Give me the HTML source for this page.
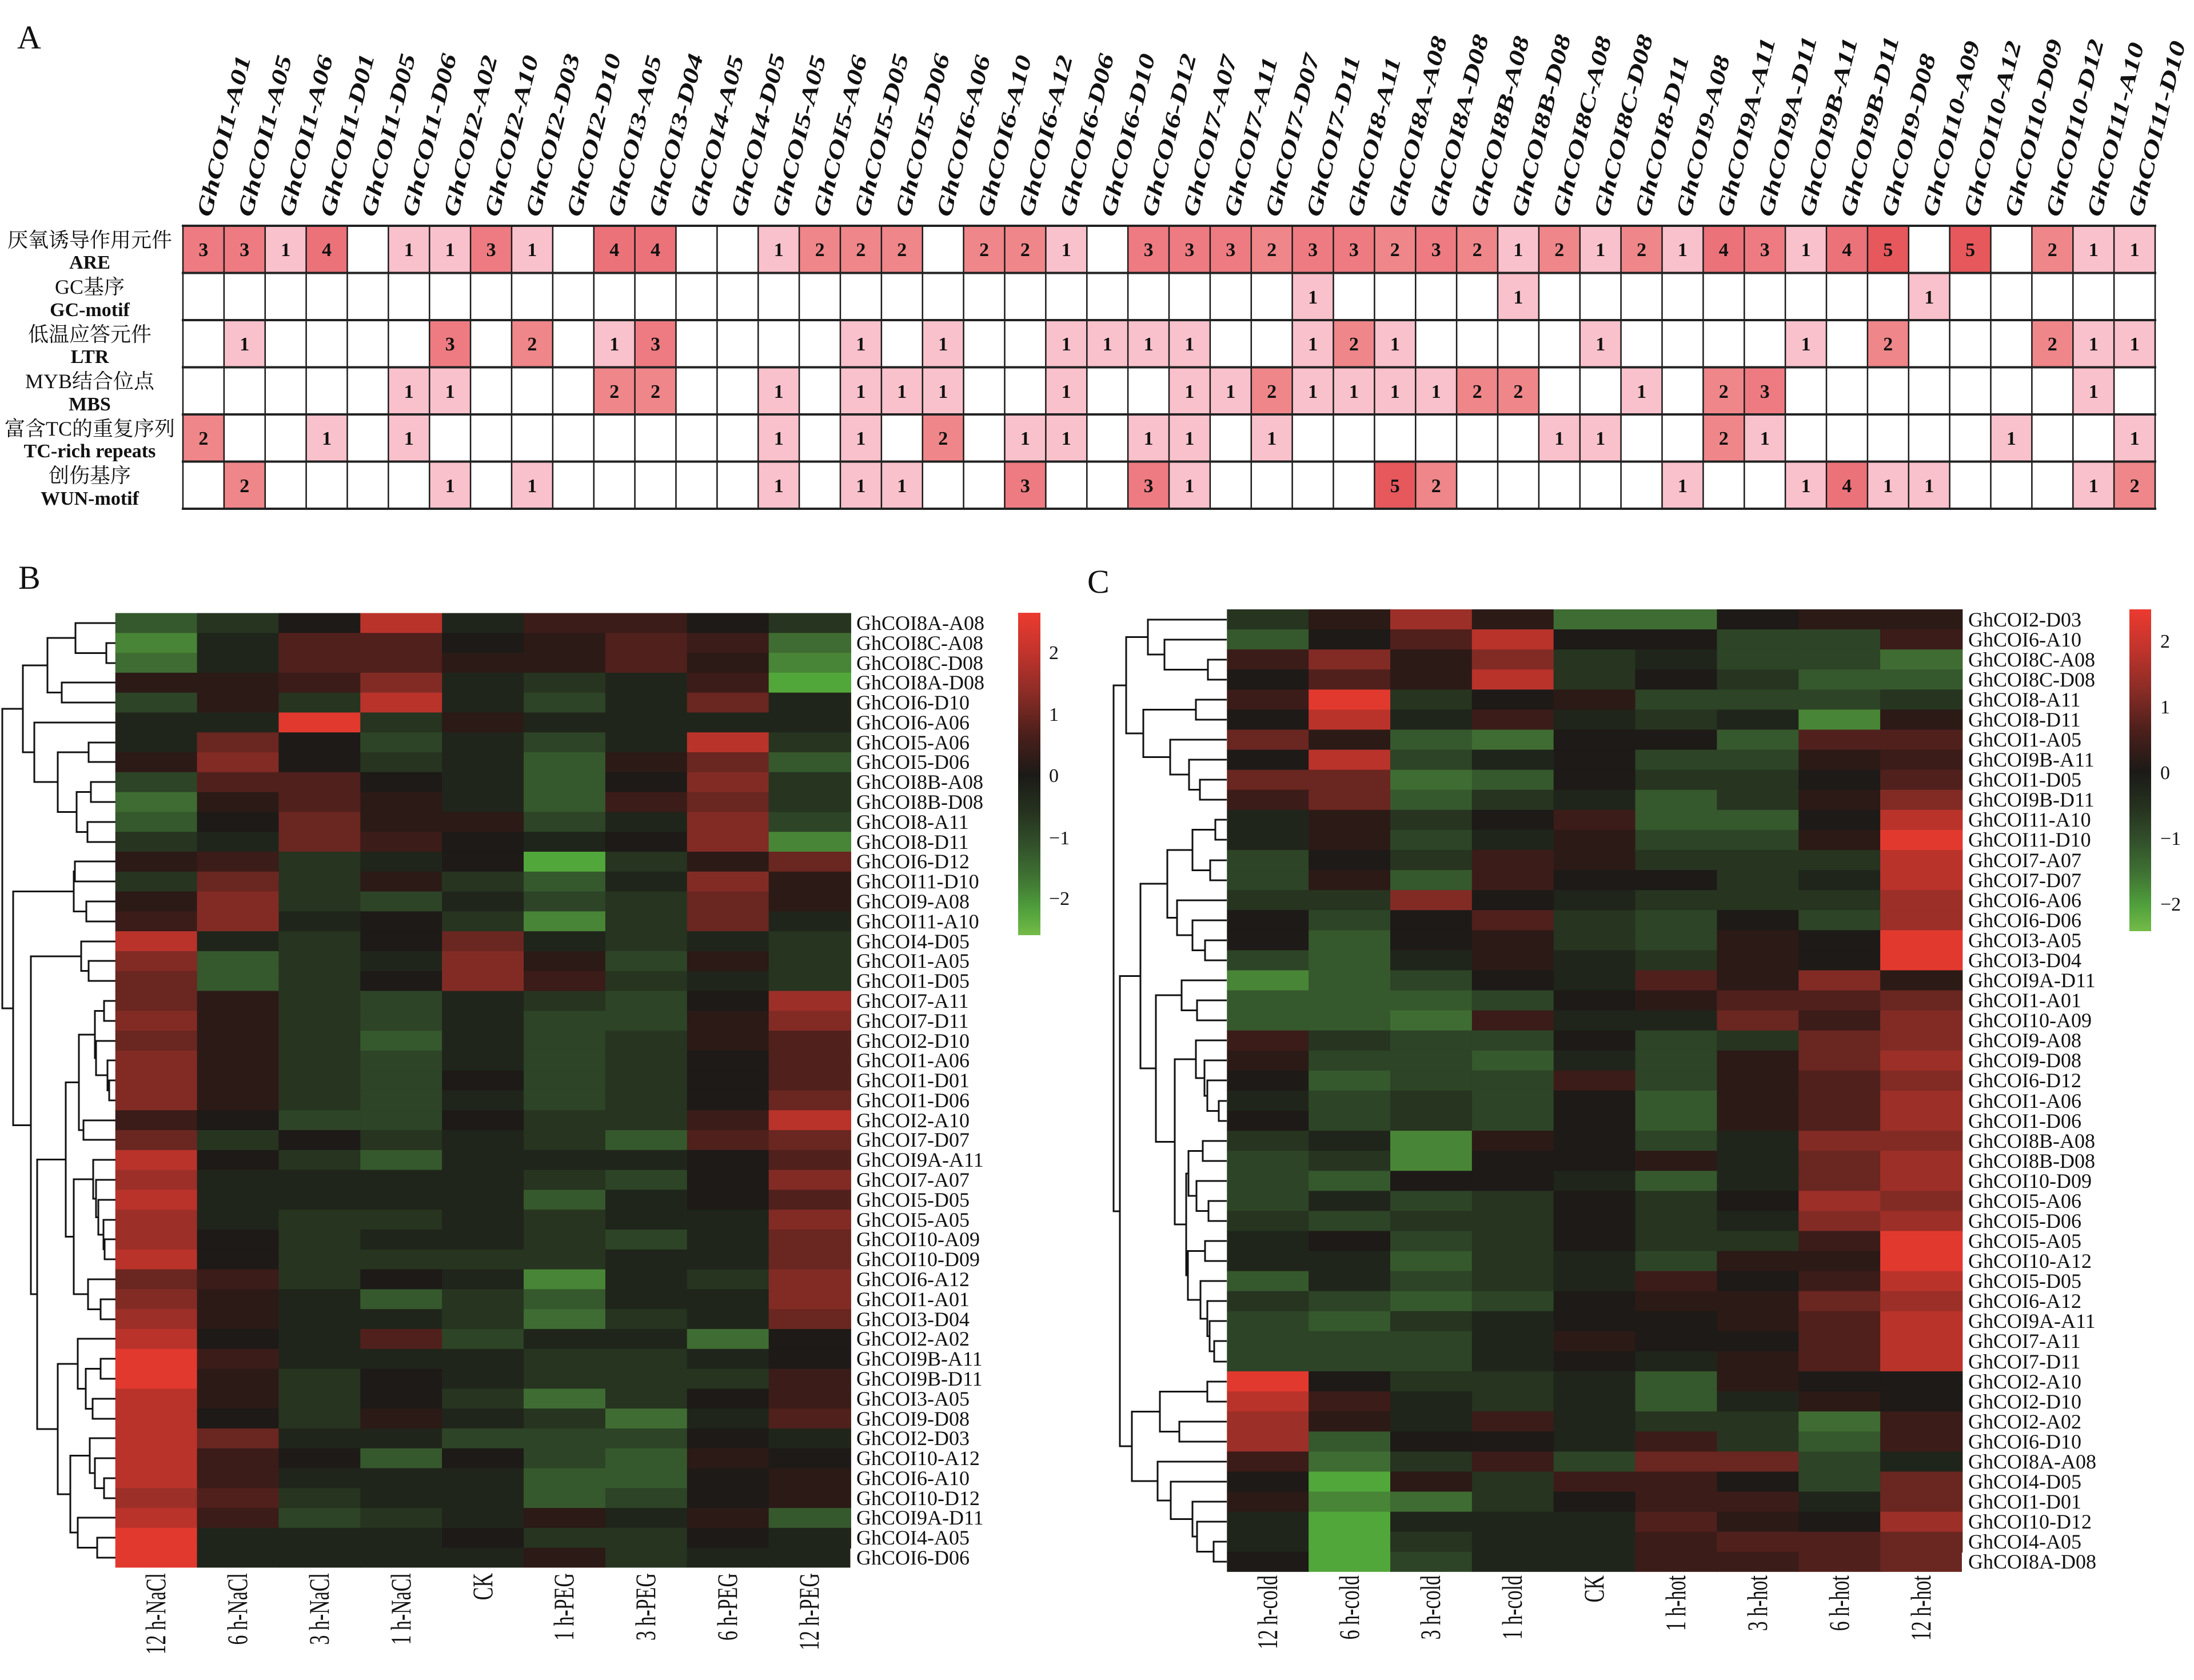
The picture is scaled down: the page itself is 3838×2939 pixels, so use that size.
<!DOCTYPE html>
<html><head><meta charset="utf-8"><style>
html,body{margin:0;padding:0;background:#fff}
svg{display:block}
text{font-family:"Liberation Serif","Noto Serif CJK SC",serif;fill:#111}
.z{fill:#1d1a17}.p1{fill:#2c1a17}.p2{fill:#3b1c19}.p3{fill:#50201c}.p4{fill:#6a2620}.p5{fill:#822b25}.p6{fill:#9c2f28}.p7{fill:#b9332b}.p8{fill:#e2392f}
.m1{fill:#20251b}.m2{fill:#263420}.m3{fill:#2d4427}.m4{fill:#36582d}.m5{fill:#3f6c32}.m6{fill:#488536}.m7{fill:#52a73b}
.a1{fill:#f9c1cb}.a2{fill:#ef8689}.a3{fill:#ee7b81}.a4{fill:#ec727a}.a5{fill:#e6585c}
.hd{font-weight:bold;font-style:italic;font-size:52px}
.num{font-weight:bold;font-size:34px;text-anchor:middle}
.cn{font-size:36px;text-anchor:middle}
.en{font-size:34px;font-weight:bold;text-anchor:middle}
.rl{font-size:36px}
.cl{font-size:34px;text-anchor:end}
.tk{font-size:34px}
.pl{font-size:58px}
.dg{fill:none;stroke:#111;stroke-width:3}
</style></head><body>
<svg width="3838" height="2939" viewBox="0 0 3838 2939" xmlns="http://www.w3.org/2000/svg">
<defs>
<linearGradient id="cb" x1="0" y1="0" x2="0" y2="1">
<stop offset="0" stop-color="#ec3a30"/><stop offset="0.12" stop-color="#c2342c"/><stop offset="0.25" stop-color="#8a2c26"/><stop offset="0.38" stop-color="#4a1f1b"/><stop offset="0.505" stop-color="#1b1a17"/><stop offset="0.62" stop-color="#26331f"/><stop offset="0.72" stop-color="#32502b"/><stop offset="0.82" stop-color="#3f7233"/><stop offset="0.92" stop-color="#50a03c"/><stop offset="1" stop-color="#74bb48"/>
</linearGradient>
</defs>
<rect width="3838" height="2939" fill="#fff"/>

<!-- Panel labels -->
<text class="pl" x="30" y="85">A</text>
<text class="pl" x="32" y="1030">B</text>
<text class="pl" x="1902" y="1037">C</text>

<!-- Panel A header labels -->
<g class="hd">
<text transform="translate(368.9 381) rotate(-76) scale(1 .75)">GhCOI1-A01</text>
<text transform="translate(440.8 381) rotate(-76) scale(1 .75)">GhCOI1-A05</text>
<text transform="translate(512.7 381) rotate(-76) scale(1 .75)">GhCOI1-A06</text>
<text transform="translate(584.6 381) rotate(-76) scale(1 .75)">GhCOI1-D01</text>
<text transform="translate(656.4 381) rotate(-76) scale(1 .75)">GhCOI1-D05</text>
<text transform="translate(728.3 381) rotate(-76) scale(1 .75)">GhCOI1-D06</text>
<text transform="translate(800.2 381) rotate(-76) scale(1 .75)">GhCOI2-A02</text>
<text transform="translate(872.1 381) rotate(-76) scale(1 .75)">GhCOI2-A10</text>
<text transform="translate(943.9 381) rotate(-76) scale(1 .75)">GhCOI2-D03</text>
<text transform="translate(1015.8 381) rotate(-76) scale(1 .75)">GhCOI2-D10</text>
<text transform="translate(1087.7 381) rotate(-76) scale(1 .75)">GhCOI3-A05</text>
<text transform="translate(1159.6 381) rotate(-76) scale(1 .75)">GhCOI3-D04</text>
<text transform="translate(1231.4 381) rotate(-76) scale(1 .75)">GhCOI4-A05</text>
<text transform="translate(1303.3 381) rotate(-76) scale(1 .75)">GhCOI4-D05</text>
<text transform="translate(1375.2 381) rotate(-76) scale(1 .75)">GhCOI5-A05</text>
<text transform="translate(1447.1 381) rotate(-76) scale(1 .75)">GhCOI5-A06</text>
<text transform="translate(1518.9 381) rotate(-76) scale(1 .75)">GhCOI5-D05</text>
<text transform="translate(1590.8 381) rotate(-76) scale(1 .75)">GhCOI5-D06</text>
<text transform="translate(1662.7 381) rotate(-76) scale(1 .75)">GhCOI6-A06</text>
<text transform="translate(1734.6 381) rotate(-76) scale(1 .75)">GhCOI6-A10</text>
<text transform="translate(1806.4 381) rotate(-76) scale(1 .75)">GhCOI6-A12</text>
<text transform="translate(1878.3 381) rotate(-76) scale(1 .75)">GhCOI6-D06</text>
<text transform="translate(1950.2 381) rotate(-76) scale(1 .75)">GhCOI6-D10</text>
<text transform="translate(2022.1 381) rotate(-76) scale(1 .75)">GhCOI6-D12</text>
<text transform="translate(2093.9 381) rotate(-76) scale(1 .75)">GhCOI7-A07</text>
<text transform="translate(2165.8 381) rotate(-76) scale(1 .75)">GhCOI7-A11</text>
<text transform="translate(2237.7 381) rotate(-76) scale(1 .75)">GhCOI7-D07</text>
<text transform="translate(2309.6 381) rotate(-76) scale(1 .75)">GhCOI7-D11</text>
<text transform="translate(2381.4 381) rotate(-76) scale(1 .75)">GhCOI8-A11</text>
<text transform="translate(2453.3 381) rotate(-76) scale(1 .75)">GhCOI8A-A08</text>
<text transform="translate(2525.2 381) rotate(-76) scale(1 .75)">GhCOI8A-D08</text>
<text transform="translate(2597.1 381) rotate(-76) scale(1 .75)">GhCOI8B-A08</text>
<text transform="translate(2668.9 381) rotate(-76) scale(1 .75)">GhCOI8B-D08</text>
<text transform="translate(2740.8 381) rotate(-76) scale(1 .75)">GhCOI8C-A08</text>
<text transform="translate(2812.7 381) rotate(-76) scale(1 .75)">GhCOI8C-D08</text>
<text transform="translate(2884.6 381) rotate(-76) scale(1 .75)">GhCOI8-D11</text>
<text transform="translate(2956.4 381) rotate(-76) scale(1 .75)">GhCOI9-A08</text>
<text transform="translate(3028.3 381) rotate(-76) scale(1 .75)">GhCOI9A-A11</text>
<text transform="translate(3100.2 381) rotate(-76) scale(1 .75)">GhCOI9A-D11</text>
<text transform="translate(3172.1 381) rotate(-76) scale(1 .75)">GhCOI9B-A11</text>
<text transform="translate(3243.9 381) rotate(-76) scale(1 .75)">GhCOI9B-D11</text>
<text transform="translate(3315.8 381) rotate(-76) scale(1 .75)">GhCOI9-D08</text>
<text transform="translate(3387.7 381) rotate(-76) scale(1 .75)">GhCOI10-A09</text>
<text transform="translate(3459.6 381) rotate(-76) scale(1 .75)">GhCOI10-A12</text>
<text transform="translate(3531.4 381) rotate(-76) scale(1 .75)">GhCOI10-D09</text>
<text transform="translate(3603.3 381) rotate(-76) scale(1 .75)">GhCOI10-D12</text>
<text transform="translate(3675.2 381) rotate(-76) scale(1 .75)">GhCOI11-A10</text>
<text transform="translate(3747.1 381) rotate(-76) scale(1 .75)">GhCOI11-D10</text>
</g>

<!-- Panel A row labels -->
<text class="cn" x="157" y="432">厌氧诱导作用元件</text><text class="en" x="157" y="470">ARE</text>
<text class="cn" x="157" y="514">GC基序</text><text class="en" x="157" y="553">GC-motif</text>
<text class="cn" x="157" y="597">低温应答元件</text><text class="en" x="157" y="635">LTR</text>
<text class="cn" x="157" y="679">MYB结合位点</text><text class="en" x="157" y="718">MBS</text>
<text class="cn" x="157" y="762">富含TC的重复序列</text><text class="en" x="157" y="800">TC-rich repeats</text>
<text class="cn" x="157" y="844">创伤基序</text><text class="en" x="157" y="883">WUN-motif</text>

<!-- Panel A cells -->
<g transform="translate(320 395) scale(71.875 82.5)">
<rect class="a3" x="0" y="0" width="1" height="1"/><rect class="a3" x="1" y="0" width="1" height="1"/><rect class="a1" x="2" y="0" width="1" height="1"/><rect class="a4" x="3" y="0" width="1" height="1"/><rect class="a1" x="5" y="0" width="1" height="1"/><rect class="a1" x="6" y="0" width="1" height="1"/><rect class="a3" x="7" y="0" width="1" height="1"/><rect class="a1" x="8" y="0" width="1" height="1"/><rect class="a4" x="10" y="0" width="1" height="1"/><rect class="a4" x="11" y="0" width="1" height="1"/><rect class="a1" x="14" y="0" width="1" height="1"/><rect class="a2" x="15" y="0" width="1" height="1"/><rect class="a2" x="16" y="0" width="1" height="1"/><rect class="a2" x="17" y="0" width="1" height="1"/><rect class="a2" x="19" y="0" width="1" height="1"/><rect class="a2" x="20" y="0" width="1" height="1"/><rect class="a1" x="21" y="0" width="1" height="1"/><rect class="a3" x="23" y="0" width="1" height="1"/><rect class="a3" x="24" y="0" width="1" height="1"/><rect class="a3" x="25" y="0" width="1" height="1"/><rect class="a2" x="26" y="0" width="1" height="1"/><rect class="a3" x="27" y="0" width="1" height="1"/><rect class="a3" x="28" y="0" width="1" height="1"/><rect class="a2" x="29" y="0" width="1" height="1"/><rect class="a3" x="30" y="0" width="1" height="1"/><rect class="a2" x="31" y="0" width="1" height="1"/><rect class="a1" x="32" y="0" width="1" height="1"/><rect class="a2" x="33" y="0" width="1" height="1"/><rect class="a1" x="34" y="0" width="1" height="1"/><rect class="a2" x="35" y="0" width="1" height="1"/><rect class="a1" x="36" y="0" width="1" height="1"/><rect class="a4" x="37" y="0" width="1" height="1"/><rect class="a3" x="38" y="0" width="1" height="1"/><rect class="a1" x="39" y="0" width="1" height="1"/><rect class="a4" x="40" y="0" width="1" height="1"/><rect class="a5" x="41" y="0" width="1" height="1"/><rect class="a5" x="43" y="0" width="1" height="1"/><rect class="a2" x="45" y="0" width="1" height="1"/><rect class="a1" x="46" y="0" width="1" height="1"/><rect class="a1" x="47" y="0" width="1" height="1"/>
<rect class="a1" x="27" y="1" width="1" height="1"/><rect class="a1" x="32" y="1" width="1" height="1"/><rect class="a1" x="42" y="1" width="1" height="1"/>
<rect class="a1" x="1" y="2" width="1" height="1"/><rect class="a3" x="6" y="2" width="1" height="1"/><rect class="a2" x="8" y="2" width="1" height="1"/><rect class="a1" x="10" y="2" width="1" height="1"/><rect class="a3" x="11" y="2" width="1" height="1"/><rect class="a1" x="16" y="2" width="1" height="1"/><rect class="a1" x="18" y="2" width="1" height="1"/><rect class="a1" x="21" y="2" width="1" height="1"/><rect class="a1" x="22" y="2" width="1" height="1"/><rect class="a1" x="23" y="2" width="1" height="1"/><rect class="a1" x="24" y="2" width="1" height="1"/><rect class="a1" x="27" y="2" width="1" height="1"/><rect class="a2" x="28" y="2" width="1" height="1"/><rect class="a1" x="29" y="2" width="1" height="1"/><rect class="a1" x="34" y="2" width="1" height="1"/><rect class="a1" x="39" y="2" width="1" height="1"/><rect class="a2" x="41" y="2" width="1" height="1"/><rect class="a2" x="45" y="2" width="1" height="1"/><rect class="a1" x="46" y="2" width="1" height="1"/><rect class="a1" x="47" y="2" width="1" height="1"/>
<rect class="a1" x="5" y="3" width="1" height="1"/><rect class="a1" x="6" y="3" width="1" height="1"/><rect class="a2" x="10" y="3" width="1" height="1"/><rect class="a2" x="11" y="3" width="1" height="1"/><rect class="a1" x="14" y="3" width="1" height="1"/><rect class="a1" x="16" y="3" width="1" height="1"/><rect class="a1" x="17" y="3" width="1" height="1"/><rect class="a1" x="18" y="3" width="1" height="1"/><rect class="a1" x="21" y="3" width="1" height="1"/><rect class="a1" x="24" y="3" width="1" height="1"/><rect class="a1" x="25" y="3" width="1" height="1"/><rect class="a2" x="26" y="3" width="1" height="1"/><rect class="a1" x="27" y="3" width="1" height="1"/><rect class="a1" x="28" y="3" width="1" height="1"/><rect class="a1" x="29" y="3" width="1" height="1"/><rect class="a1" x="30" y="3" width="1" height="1"/><rect class="a2" x="31" y="3" width="1" height="1"/><rect class="a2" x="32" y="3" width="1" height="1"/><rect class="a1" x="35" y="3" width="1" height="1"/><rect class="a2" x="37" y="3" width="1" height="1"/><rect class="a3" x="38" y="3" width="1" height="1"/><rect class="a1" x="46" y="3" width="1" height="1"/>
<rect class="a2" x="0" y="4" width="1" height="1"/><rect class="a1" x="3" y="4" width="1" height="1"/><rect class="a1" x="5" y="4" width="1" height="1"/><rect class="a1" x="14" y="4" width="1" height="1"/><rect class="a1" x="16" y="4" width="1" height="1"/><rect class="a2" x="18" y="4" width="1" height="1"/><rect class="a1" x="20" y="4" width="1" height="1"/><rect class="a1" x="21" y="4" width="1" height="1"/><rect class="a1" x="23" y="4" width="1" height="1"/><rect class="a1" x="24" y="4" width="1" height="1"/><rect class="a1" x="26" y="4" width="1" height="1"/><rect class="a1" x="33" y="4" width="1" height="1"/><rect class="a1" x="34" y="4" width="1" height="1"/><rect class="a2" x="37" y="4" width="1" height="1"/><rect class="a1" x="38" y="4" width="1" height="1"/><rect class="a1" x="44" y="4" width="1" height="1"/><rect class="a1" x="47" y="4" width="1" height="1"/>
<rect class="a2" x="1" y="5" width="1" height="1"/><rect class="a1" x="6" y="5" width="1" height="1"/><rect class="a1" x="8" y="5" width="1" height="1"/><rect class="a1" x="14" y="5" width="1" height="1"/><rect class="a1" x="16" y="5" width="1" height="1"/><rect class="a1" x="17" y="5" width="1" height="1"/><rect class="a3" x="20" y="5" width="1" height="1"/><rect class="a3" x="23" y="5" width="1" height="1"/><rect class="a1" x="24" y="5" width="1" height="1"/><rect class="a5" x="29" y="5" width="1" height="1"/><rect class="a2" x="30" y="5" width="1" height="1"/><rect class="a1" x="36" y="5" width="1" height="1"/><rect class="a1" x="39" y="5" width="1" height="1"/><rect class="a4" x="40" y="5" width="1" height="1"/><rect class="a1" x="41" y="5" width="1" height="1"/><rect class="a1" x="42" y="5" width="1" height="1"/><rect class="a1" x="46" y="5" width="1" height="1"/><rect class="a2" x="47" y="5" width="1" height="1"/>
</g>

<!-- Panel A grid -->
<path d="M320 395V890M391.9 395V890M463.8 395V890M535.6 395V890M607.5 395V890M679.4 395V890M751.3 395V890M823.1 395V890M895 395V890M966.9 395V890M1038.8 395V890M1110.6 395V890M1182.5 395V890M1254.4 395V890M1326.3 395V890M1398.1 395V890M1470 395V890M1541.9 395V890M1613.8 395V890M1685.6 395V890M1757.5 395V890M1829.4 395V890M1901.3 395V890M1973.1 395V890M2045 395V890M2116.9 395V890M2188.8 395V890M2260.6 395V890M2332.5 395V890M2404.4 395V890M2476.3 395V890M2548.1 395V890M2620 395V890M2691.9 395V890M2763.8 395V890M2835.6 395V890M2907.5 395V890M2979.4 395V890M3051.3 395V890M3123.1 395V890M3195 395V890M3266.9 395V890M3338.8 395V890M3410.6 395V890M3482.5 395V890M3554.4 395V890M3626.3 395V890M3698.1 395V890M3770 395V890" stroke="#1a1a1a" stroke-width="2.5" fill="none"/>
<path d="M318 395H3772M318 477.5H3772M318 560H3772M318 642.5H3772M318 725H3772M318 807.5H3772M318 890H3772" stroke="#222" stroke-width="4" fill="none"/>

<!-- Panel A numbers -->
<g class="num">
<text x="355.9" y="448">3</text><text x="427.8" y="448">3</text><text x="499.7" y="448">1</text><text x="571.6" y="448">4</text><text x="715.3" y="448">1</text><text x="787.2" y="448">1</text><text x="859.1" y="448">3</text><text x="930.9" y="448">1</text><text x="1074.7" y="448">4</text><text x="1146.6" y="448">4</text><text x="1362.2" y="448">1</text><text x="1434.1" y="448">2</text><text x="1505.9" y="448">2</text><text x="1577.8" y="448">2</text><text x="1721.6" y="448">2</text><text x="1793.4" y="448">2</text><text x="1865.3" y="448">1</text><text x="2009.1" y="448">3</text><text x="2080.9" y="448">3</text><text x="2152.8" y="448">3</text><text x="2224.7" y="448">2</text><text x="2296.6" y="448">3</text><text x="2368.4" y="448">3</text><text x="2440.3" y="448">2</text><text x="2512.2" y="448">3</text><text x="2584.1" y="448">2</text><text x="2655.9" y="448">1</text><text x="2727.8" y="448">2</text><text x="2799.7" y="448">1</text><text x="2871.6" y="448">2</text><text x="2943.4" y="448">1</text><text x="3015.3" y="448">4</text><text x="3087.2" y="448">3</text><text x="3159.1" y="448">1</text><text x="3230.9" y="448">4</text><text x="3302.8" y="448">5</text><text x="3446.6" y="448">5</text><text x="3590.3" y="448">2</text><text x="3662.2" y="448">1</text><text x="3734.1" y="448">1</text>
<text x="2296.6" y="531">1</text><text x="2655.9" y="531">1</text><text x="3374.7" y="531">1</text>
<text x="427.8" y="613">1</text><text x="787.2" y="613">3</text><text x="930.9" y="613">2</text><text x="1074.7" y="613">1</text><text x="1146.6" y="613">3</text><text x="1505.9" y="613">1</text><text x="1649.7" y="613">1</text><text x="1865.3" y="613">1</text><text x="1937.2" y="613">1</text><text x="2009.1" y="613">1</text><text x="2080.9" y="613">1</text><text x="2296.6" y="613">1</text><text x="2368.4" y="613">2</text><text x="2440.3" y="613">1</text><text x="2799.7" y="613">1</text><text x="3159.1" y="613">1</text><text x="3302.8" y="613">2</text><text x="3590.3" y="613">2</text><text x="3662.2" y="613">1</text><text x="3734.1" y="613">1</text>
<text x="715.3" y="696">1</text><text x="787.2" y="696">1</text><text x="1074.7" y="696">2</text><text x="1146.6" y="696">2</text><text x="1362.2" y="696">1</text><text x="1505.9" y="696">1</text><text x="1577.8" y="696">1</text><text x="1649.7" y="696">1</text><text x="1865.3" y="696">1</text><text x="2080.9" y="696">1</text><text x="2152.8" y="696">1</text><text x="2224.7" y="696">2</text><text x="2296.6" y="696">1</text><text x="2368.4" y="696">1</text><text x="2440.3" y="696">1</text><text x="2512.2" y="696">1</text><text x="2584.1" y="696">2</text><text x="2655.9" y="696">2</text><text x="2871.6" y="696">1</text><text x="3015.3" y="696">2</text><text x="3087.2" y="696">3</text><text x="3662.2" y="696">1</text>
<text x="355.9" y="778">2</text><text x="571.6" y="778">1</text><text x="715.3" y="778">1</text><text x="1362.2" y="778">1</text><text x="1505.9" y="778">1</text><text x="1649.7" y="778">2</text><text x="1793.4" y="778">1</text><text x="1865.3" y="778">1</text><text x="2009.1" y="778">1</text><text x="2080.9" y="778">1</text><text x="2224.7" y="778">1</text><text x="2727.8" y="778">1</text><text x="2799.7" y="778">1</text><text x="3015.3" y="778">2</text><text x="3087.2" y="778">1</text><text x="3518.4" y="778">1</text><text x="3734.1" y="778">1</text>
<text x="427.8" y="861">2</text><text x="787.2" y="861">1</text><text x="930.9" y="861">1</text><text x="1362.2" y="861">1</text><text x="1505.9" y="861">1</text><text x="1577.8" y="861">1</text><text x="1793.4" y="861">3</text><text x="2009.1" y="861">3</text><text x="2080.9" y="861">1</text><text x="2440.3" y="861">5</text><text x="2512.2" y="861">2</text><text x="2943.4" y="861">1</text><text x="3159.1" y="861">1</text><text x="3230.9" y="861">4</text><text x="3302.8" y="861">1</text><text x="3374.7" y="861">1</text><text x="3662.2" y="861">1</text><text x="3734.1" y="861">2</text>
</g>

<!-- Panel B heatmap -->
<g transform="translate(201.7 1072.5) scale(142.87 34.79)">
<rect class="m4" x="0" y="0" width="1.01" height="1.04"/><rect class="m2" x="1" y="0" width="1.01" height="1.04"/><rect class="z" x="2" y="0" width="1.01" height="1.04"/><rect class="p7" x="3" y="0" width="1.01" height="1.04"/><rect class="m1" x="4" y="0" width="1.01" height="1.04"/><rect class="p2" x="5" y="0" width="1.01" height="1.04"/><rect class="p2" x="6" y="0" width="1.01" height="1.04"/><rect class="z" x="7" y="0" width="1.01" height="1.04"/><rect class="m2" x="8" y="0" width="1.01" height="1.04"/>
<rect class="m6" x="0" y="1" width="1.01" height="1.04"/><rect class="m1" x="1" y="1" width="1.01" height="1.04"/><rect class="p3" x="2" y="1" width="1.01" height="1.04"/><rect class="p3" x="3" y="1" width="1.01" height="1.04"/><rect class="z" x="4" y="1" width="1.01" height="1.04"/><rect class="p1" x="5" y="1" width="1.01" height="1.04"/><rect class="p3" x="6" y="1" width="1.01" height="1.04"/><rect class="p2" x="7" y="1" width="1.01" height="1.04"/><rect class="m5" x="8" y="1" width="1.01" height="1.04"/>
<rect class="m5" x="0" y="2" width="1.01" height="1.04"/><rect class="m1" x="1" y="2" width="1.01" height="1.04"/><rect class="p3" x="2" y="2" width="1.01" height="1.04"/><rect class="p3" x="3" y="2" width="1.01" height="1.04"/><rect class="p1" x="4" y="2" width="1.01" height="1.04"/><rect class="p1" x="5" y="2" width="1.01" height="1.04"/><rect class="p3" x="6" y="2" width="1.01" height="1.04"/><rect class="p1" x="7" y="2" width="1.01" height="1.04"/><rect class="m6" x="8" y="2" width="1.01" height="1.04"/>
<rect class="p1" x="0" y="3" width="1.01" height="1.04"/><rect class="p1" x="1" y="3" width="1.01" height="1.04"/><rect class="p2" x="2" y="3" width="1.01" height="1.04"/><rect class="p5" x="3" y="3" width="1.01" height="1.04"/><rect class="m1" x="4" y="3" width="1.01" height="1.04"/><rect class="m2" x="5" y="3" width="1.01" height="1.04"/><rect class="m1" x="6" y="3" width="1.01" height="1.04"/><rect class="p2" x="7" y="3" width="1.01" height="1.04"/><rect class="m7" x="8" y="3" width="1.01" height="1.04"/>
<rect class="m3" x="0" y="4" width="1.01" height="1.04"/><rect class="p1" x="1" y="4" width="1.01" height="1.04"/><rect class="m2" x="2" y="4" width="1.01" height="1.04"/><rect class="p7" x="3" y="4" width="1.01" height="1.04"/><rect class="m1" x="4" y="4" width="1.01" height="1.04"/><rect class="m3" x="5" y="4" width="1.01" height="1.04"/><rect class="m1" x="6" y="4" width="1.01" height="1.04"/><rect class="p4" x="7" y="4" width="1.01" height="1.04"/><rect class="m1" x="8" y="4" width="1.01" height="1.04"/>
<rect class="m1" x="0" y="5" width="1.01" height="1.04"/><rect class="m1" x="1" y="5" width="1.01" height="1.04"/><rect class="p8" x="2" y="5" width="1.01" height="1.04"/><rect class="m2" x="3" y="5" width="1.01" height="1.04"/><rect class="p1" x="4" y="5" width="1.01" height="1.04"/><rect class="m1" x="5" y="5" width="1.01" height="1.04"/><rect class="m1" x="6" y="5" width="1.01" height="1.04"/><rect class="m1" x="7" y="5" width="1.01" height="1.04"/><rect class="m1" x="8" y="5" width="1.01" height="1.04"/>
<rect class="m1" x="0" y="6" width="1.01" height="1.04"/><rect class="p4" x="1" y="6" width="1.01" height="1.04"/><rect class="z" x="2" y="6" width="1.01" height="1.04"/><rect class="m3" x="3" y="6" width="1.01" height="1.04"/><rect class="m1" x="4" y="6" width="1.01" height="1.04"/><rect class="m3" x="5" y="6" width="1.01" height="1.04"/><rect class="m1" x="6" y="6" width="1.01" height="1.04"/><rect class="p7" x="7" y="6" width="1.01" height="1.04"/><rect class="m2" x="8" y="6" width="1.01" height="1.04"/>
<rect class="p1" x="0" y="7" width="1.01" height="1.04"/><rect class="p5" x="1" y="7" width="1.01" height="1.04"/><rect class="z" x="2" y="7" width="1.01" height="1.04"/><rect class="m2" x="3" y="7" width="1.01" height="1.04"/><rect class="m1" x="4" y="7" width="1.01" height="1.04"/><rect class="m4" x="5" y="7" width="1.01" height="1.04"/><rect class="p1" x="6" y="7" width="1.01" height="1.04"/><rect class="p4" x="7" y="7" width="1.01" height="1.04"/><rect class="m4" x="8" y="7" width="1.01" height="1.04"/>
<rect class="m3" x="0" y="8" width="1.01" height="1.04"/><rect class="p3" x="1" y="8" width="1.01" height="1.04"/><rect class="p3" x="2" y="8" width="1.01" height="1.04"/><rect class="z" x="3" y="8" width="1.01" height="1.04"/><rect class="m1" x="4" y="8" width="1.01" height="1.04"/><rect class="m4" x="5" y="8" width="1.01" height="1.04"/><rect class="z" x="6" y="8" width="1.01" height="1.04"/><rect class="p5" x="7" y="8" width="1.01" height="1.04"/><rect class="m2" x="8" y="8" width="1.01" height="1.04"/>
<rect class="m5" x="0" y="9" width="1.01" height="1.04"/><rect class="p1" x="1" y="9" width="1.01" height="1.04"/><rect class="p3" x="2" y="9" width="1.01" height="1.04"/><rect class="p1" x="3" y="9" width="1.01" height="1.04"/><rect class="m1" x="4" y="9" width="1.01" height="1.04"/><rect class="m4" x="5" y="9" width="1.01" height="1.04"/><rect class="p2" x="6" y="9" width="1.01" height="1.04"/><rect class="p4" x="7" y="9" width="1.01" height="1.04"/><rect class="m2" x="8" y="9" width="1.01" height="1.04"/>
<rect class="m4" x="0" y="10" width="1.01" height="1.04"/><rect class="z" x="1" y="10" width="1.01" height="1.04"/><rect class="p4" x="2" y="10" width="1.01" height="1.04"/><rect class="p1" x="3" y="10" width="1.01" height="1.04"/><rect class="p1" x="4" y="10" width="1.01" height="1.04"/><rect class="m3" x="5" y="10" width="1.01" height="1.04"/><rect class="m1" x="6" y="10" width="1.01" height="1.04"/><rect class="p5" x="7" y="10" width="1.01" height="1.04"/><rect class="m3" x="8" y="10" width="1.01" height="1.04"/>
<rect class="m2" x="0" y="11" width="1.01" height="1.04"/><rect class="m1" x="1" y="11" width="1.01" height="1.04"/><rect class="p4" x="2" y="11" width="1.01" height="1.04"/><rect class="p2" x="3" y="11" width="1.01" height="1.04"/><rect class="z" x="4" y="11" width="1.01" height="1.04"/><rect class="m1" x="5" y="11" width="1.01" height="1.04"/><rect class="z" x="6" y="11" width="1.01" height="1.04"/><rect class="p5" x="7" y="11" width="1.01" height="1.04"/><rect class="m6" x="8" y="11" width="1.01" height="1.04"/>
<rect class="p1" x="0" y="12" width="1.01" height="1.04"/><rect class="p2" x="1" y="12" width="1.01" height="1.04"/><rect class="m2" x="2" y="12" width="1.01" height="1.04"/><rect class="m1" x="3" y="12" width="1.01" height="1.04"/><rect class="z" x="4" y="12" width="1.01" height="1.04"/><rect class="m7" x="5" y="12" width="1.01" height="1.04"/><rect class="m2" x="6" y="12" width="1.01" height="1.04"/><rect class="p1" x="7" y="12" width="1.01" height="1.04"/><rect class="p4" x="8" y="12" width="1.01" height="1.04"/>
<rect class="m2" x="0" y="13" width="1.01" height="1.04"/><rect class="p4" x="1" y="13" width="1.01" height="1.04"/><rect class="m2" x="2" y="13" width="1.01" height="1.04"/><rect class="p1" x="3" y="13" width="1.01" height="1.04"/><rect class="m2" x="4" y="13" width="1.01" height="1.04"/><rect class="m4" x="5" y="13" width="1.01" height="1.04"/><rect class="m1" x="6" y="13" width="1.01" height="1.04"/><rect class="p5" x="7" y="13" width="1.01" height="1.04"/><rect class="p1" x="8" y="13" width="1.01" height="1.04"/>
<rect class="p1" x="0" y="14" width="1.01" height="1.04"/><rect class="p5" x="1" y="14" width="1.01" height="1.04"/><rect class="m2" x="2" y="14" width="1.01" height="1.04"/><rect class="m3" x="3" y="14" width="1.01" height="1.04"/><rect class="m1" x="4" y="14" width="1.01" height="1.04"/><rect class="m3" x="5" y="14" width="1.01" height="1.04"/><rect class="m2" x="6" y="14" width="1.01" height="1.04"/><rect class="p4" x="7" y="14" width="1.01" height="1.04"/><rect class="p1" x="8" y="14" width="1.01" height="1.04"/>
<rect class="p2" x="0" y="15" width="1.01" height="1.04"/><rect class="p5" x="1" y="15" width="1.01" height="1.04"/><rect class="m1" x="2" y="15" width="1.01" height="1.04"/><rect class="z" x="3" y="15" width="1.01" height="1.04"/><rect class="m2" x="4" y="15" width="1.01" height="1.04"/><rect class="m6" x="5" y="15" width="1.01" height="1.04"/><rect class="m2" x="6" y="15" width="1.01" height="1.04"/><rect class="p4" x="7" y="15" width="1.01" height="1.04"/><rect class="m1" x="8" y="15" width="1.01" height="1.04"/>
<rect class="p7" x="0" y="16" width="1.01" height="1.04"/><rect class="m1" x="1" y="16" width="1.01" height="1.04"/><rect class="m2" x="2" y="16" width="1.01" height="1.04"/><rect class="z" x="3" y="16" width="1.01" height="1.04"/><rect class="p4" x="4" y="16" width="1.01" height="1.04"/><rect class="m1" x="5" y="16" width="1.01" height="1.04"/><rect class="m2" x="6" y="16" width="1.01" height="1.04"/><rect class="m1" x="7" y="16" width="1.01" height="1.04"/><rect class="m2" x="8" y="16" width="1.01" height="1.04"/>
<rect class="p5" x="0" y="17" width="1.01" height="1.04"/><rect class="m4" x="1" y="17" width="1.01" height="1.04"/><rect class="m2" x="2" y="17" width="1.01" height="1.04"/><rect class="m1" x="3" y="17" width="1.01" height="1.04"/><rect class="p5" x="4" y="17" width="1.01" height="1.04"/><rect class="p1" x="5" y="17" width="1.01" height="1.04"/><rect class="m3" x="6" y="17" width="1.01" height="1.04"/><rect class="p1" x="7" y="17" width="1.01" height="1.04"/><rect class="m2" x="8" y="17" width="1.01" height="1.04"/>
<rect class="p4" x="0" y="18" width="1.01" height="1.04"/><rect class="m4" x="1" y="18" width="1.01" height="1.04"/><rect class="m2" x="2" y="18" width="1.01" height="1.04"/><rect class="z" x="3" y="18" width="1.01" height="1.04"/><rect class="p5" x="4" y="18" width="1.01" height="1.04"/><rect class="p2" x="5" y="18" width="1.01" height="1.04"/><rect class="m2" x="6" y="18" width="1.01" height="1.04"/><rect class="m1" x="7" y="18" width="1.01" height="1.04"/><rect class="m2" x="8" y="18" width="1.01" height="1.04"/>
<rect class="p4" x="0" y="19" width="1.01" height="1.04"/><rect class="p1" x="1" y="19" width="1.01" height="1.04"/><rect class="m2" x="2" y="19" width="1.01" height="1.04"/><rect class="m3" x="3" y="19" width="1.01" height="1.04"/><rect class="m1" x="4" y="19" width="1.01" height="1.04"/><rect class="m2" x="5" y="19" width="1.01" height="1.04"/><rect class="m3" x="6" y="19" width="1.01" height="1.04"/><rect class="z" x="7" y="19" width="1.01" height="1.04"/><rect class="p6" x="8" y="19" width="1.01" height="1.04"/>
<rect class="p5" x="0" y="20" width="1.01" height="1.04"/><rect class="p1" x="1" y="20" width="1.01" height="1.04"/><rect class="m2" x="2" y="20" width="1.01" height="1.04"/><rect class="m3" x="3" y="20" width="1.01" height="1.04"/><rect class="m1" x="4" y="20" width="1.01" height="1.04"/><rect class="m3" x="5" y="20" width="1.01" height="1.04"/><rect class="m3" x="6" y="20" width="1.01" height="1.04"/><rect class="p1" x="7" y="20" width="1.01" height="1.04"/><rect class="p5" x="8" y="20" width="1.01" height="1.04"/>
<rect class="p4" x="0" y="21" width="1.01" height="1.04"/><rect class="p1" x="1" y="21" width="1.01" height="1.04"/><rect class="m2" x="2" y="21" width="1.01" height="1.04"/><rect class="m4" x="3" y="21" width="1.01" height="1.04"/><rect class="m1" x="4" y="21" width="1.01" height="1.04"/><rect class="m3" x="5" y="21" width="1.01" height="1.04"/><rect class="m2" x="6" y="21" width="1.01" height="1.04"/><rect class="p1" x="7" y="21" width="1.01" height="1.04"/><rect class="p3" x="8" y="21" width="1.01" height="1.04"/>
<rect class="p5" x="0" y="22" width="1.01" height="1.04"/><rect class="p1" x="1" y="22" width="1.01" height="1.04"/><rect class="m2" x="2" y="22" width="1.01" height="1.04"/><rect class="m3" x="3" y="22" width="1.01" height="1.04"/><rect class="m1" x="4" y="22" width="1.01" height="1.04"/><rect class="m3" x="5" y="22" width="1.01" height="1.04"/><rect class="m2" x="6" y="22" width="1.01" height="1.04"/><rect class="z" x="7" y="22" width="1.01" height="1.04"/><rect class="p3" x="8" y="22" width="1.01" height="1.04"/>
<rect class="p5" x="0" y="23" width="1.01" height="1.04"/><rect class="p1" x="1" y="23" width="1.01" height="1.04"/><rect class="m2" x="2" y="23" width="1.01" height="1.04"/><rect class="m3" x="3" y="23" width="1.01" height="1.04"/><rect class="z" x="4" y="23" width="1.01" height="1.04"/><rect class="m3" x="5" y="23" width="1.01" height="1.04"/><rect class="m2" x="6" y="23" width="1.01" height="1.04"/><rect class="z" x="7" y="23" width="1.01" height="1.04"/><rect class="p3" x="8" y="23" width="1.01" height="1.04"/>
<rect class="p5" x="0" y="24" width="1.01" height="1.04"/><rect class="p1" x="1" y="24" width="1.01" height="1.04"/><rect class="m2" x="2" y="24" width="1.01" height="1.04"/><rect class="m3" x="3" y="24" width="1.01" height="1.04"/><rect class="m1" x="4" y="24" width="1.01" height="1.04"/><rect class="m3" x="5" y="24" width="1.01" height="1.04"/><rect class="m2" x="6" y="24" width="1.01" height="1.04"/><rect class="z" x="7" y="24" width="1.01" height="1.04"/><rect class="p4" x="8" y="24" width="1.01" height="1.04"/>
<rect class="p2" x="0" y="25" width="1.01" height="1.04"/><rect class="z" x="1" y="25" width="1.01" height="1.04"/><rect class="m3" x="2" y="25" width="1.01" height="1.04"/><rect class="m3" x="3" y="25" width="1.01" height="1.04"/><rect class="z" x="4" y="25" width="1.01" height="1.04"/><rect class="m2" x="5" y="25" width="1.01" height="1.04"/><rect class="m2" x="6" y="25" width="1.01" height="1.04"/><rect class="p2" x="7" y="25" width="1.01" height="1.04"/><rect class="p7" x="8" y="25" width="1.01" height="1.04"/>
<rect class="p4" x="0" y="26" width="1.01" height="1.04"/><rect class="m2" x="1" y="26" width="1.01" height="1.04"/><rect class="z" x="2" y="26" width="1.01" height="1.04"/><rect class="m2" x="3" y="26" width="1.01" height="1.04"/><rect class="m1" x="4" y="26" width="1.01" height="1.04"/><rect class="m2" x="5" y="26" width="1.01" height="1.04"/><rect class="m4" x="6" y="26" width="1.01" height="1.04"/><rect class="p3" x="7" y="26" width="1.01" height="1.04"/><rect class="p4" x="8" y="26" width="1.01" height="1.04"/>
<rect class="p7" x="0" y="27" width="1.01" height="1.04"/><rect class="z" x="1" y="27" width="1.01" height="1.04"/><rect class="m2" x="2" y="27" width="1.01" height="1.04"/><rect class="m4" x="3" y="27" width="1.01" height="1.04"/><rect class="m1" x="4" y="27" width="1.01" height="1.04"/><rect class="m1" x="5" y="27" width="1.01" height="1.04"/><rect class="m1" x="6" y="27" width="1.01" height="1.04"/><rect class="z" x="7" y="27" width="1.01" height="1.04"/><rect class="p3" x="8" y="27" width="1.01" height="1.04"/>
<rect class="p6" x="0" y="28" width="1.01" height="1.04"/><rect class="m1" x="1" y="28" width="1.01" height="1.04"/><rect class="m1" x="2" y="28" width="1.01" height="1.04"/><rect class="m1" x="3" y="28" width="1.01" height="1.04"/><rect class="m1" x="4" y="28" width="1.01" height="1.04"/><rect class="m2" x="5" y="28" width="1.01" height="1.04"/><rect class="m3" x="6" y="28" width="1.01" height="1.04"/><rect class="z" x="7" y="28" width="1.01" height="1.04"/><rect class="p5" x="8" y="28" width="1.01" height="1.04"/>
<rect class="p7" x="0" y="29" width="1.01" height="1.04"/><rect class="m1" x="1" y="29" width="1.01" height="1.04"/><rect class="m1" x="2" y="29" width="1.01" height="1.04"/><rect class="m1" x="3" y="29" width="1.01" height="1.04"/><rect class="m1" x="4" y="29" width="1.01" height="1.04"/><rect class="m4" x="5" y="29" width="1.01" height="1.04"/><rect class="m1" x="6" y="29" width="1.01" height="1.04"/><rect class="z" x="7" y="29" width="1.01" height="1.04"/><rect class="p3" x="8" y="29" width="1.01" height="1.04"/>
<rect class="p6" x="0" y="30" width="1.01" height="1.04"/><rect class="m1" x="1" y="30" width="1.01" height="1.04"/><rect class="m2" x="2" y="30" width="1.01" height="1.04"/><rect class="m2" x="3" y="30" width="1.01" height="1.04"/><rect class="m1" x="4" y="30" width="1.01" height="1.04"/><rect class="m2" x="5" y="30" width="1.01" height="1.04"/><rect class="m1" x="6" y="30" width="1.01" height="1.04"/><rect class="m1" x="7" y="30" width="1.01" height="1.04"/><rect class="p5" x="8" y="30" width="1.01" height="1.04"/>
<rect class="p6" x="0" y="31" width="1.01" height="1.04"/><rect class="z" x="1" y="31" width="1.01" height="1.04"/><rect class="m2" x="2" y="31" width="1.01" height="1.04"/><rect class="m1" x="3" y="31" width="1.01" height="1.04"/><rect class="m1" x="4" y="31" width="1.01" height="1.04"/><rect class="m2" x="5" y="31" width="1.01" height="1.04"/><rect class="m3" x="6" y="31" width="1.01" height="1.04"/><rect class="m1" x="7" y="31" width="1.01" height="1.04"/><rect class="p4" x="8" y="31" width="1.01" height="1.04"/>
<rect class="p7" x="0" y="32" width="1.01" height="1.04"/><rect class="z" x="1" y="32" width="1.01" height="1.04"/><rect class="m2" x="2" y="32" width="1.01" height="1.04"/><rect class="m2" x="3" y="32" width="1.01" height="1.04"/><rect class="m2" x="4" y="32" width="1.01" height="1.04"/><rect class="m2" x="5" y="32" width="1.01" height="1.04"/><rect class="m1" x="6" y="32" width="1.01" height="1.04"/><rect class="m1" x="7" y="32" width="1.01" height="1.04"/><rect class="p4" x="8" y="32" width="1.01" height="1.04"/>
<rect class="p4" x="0" y="33" width="1.01" height="1.04"/><rect class="p2" x="1" y="33" width="1.01" height="1.04"/><rect class="m2" x="2" y="33" width="1.01" height="1.04"/><rect class="z" x="3" y="33" width="1.01" height="1.04"/><rect class="m1" x="4" y="33" width="1.01" height="1.04"/><rect class="m6" x="5" y="33" width="1.01" height="1.04"/><rect class="m1" x="6" y="33" width="1.01" height="1.04"/><rect class="m2" x="7" y="33" width="1.01" height="1.04"/><rect class="p5" x="8" y="33" width="1.01" height="1.04"/>
<rect class="p5" x="0" y="34" width="1.01" height="1.04"/><rect class="p1" x="1" y="34" width="1.01" height="1.04"/><rect class="m1" x="2" y="34" width="1.01" height="1.04"/><rect class="m4" x="3" y="34" width="1.01" height="1.04"/><rect class="m2" x="4" y="34" width="1.01" height="1.04"/><rect class="m4" x="5" y="34" width="1.01" height="1.04"/><rect class="m1" x="6" y="34" width="1.01" height="1.04"/><rect class="m1" x="7" y="34" width="1.01" height="1.04"/><rect class="p5" x="8" y="34" width="1.01" height="1.04"/>
<rect class="p6" x="0" y="35" width="1.01" height="1.04"/><rect class="p1" x="1" y="35" width="1.01" height="1.04"/><rect class="m1" x="2" y="35" width="1.01" height="1.04"/><rect class="m1" x="3" y="35" width="1.01" height="1.04"/><rect class="m2" x="4" y="35" width="1.01" height="1.04"/><rect class="m5" x="5" y="35" width="1.01" height="1.04"/><rect class="m2" x="6" y="35" width="1.01" height="1.04"/><rect class="m1" x="7" y="35" width="1.01" height="1.04"/><rect class="p4" x="8" y="35" width="1.01" height="1.04"/>
<rect class="p7" x="0" y="36" width="1.01" height="1.04"/><rect class="z" x="1" y="36" width="1.01" height="1.04"/><rect class="m1" x="2" y="36" width="1.01" height="1.04"/><rect class="p3" x="3" y="36" width="1.01" height="1.04"/><rect class="m3" x="4" y="36" width="1.01" height="1.04"/><rect class="m1" x="5" y="36" width="1.01" height="1.04"/><rect class="m1" x="6" y="36" width="1.01" height="1.04"/><rect class="m5" x="7" y="36" width="1.01" height="1.04"/><rect class="z" x="8" y="36" width="1.01" height="1.04"/>
<rect class="p8" x="0" y="37" width="1.01" height="1.04"/><rect class="p2" x="1" y="37" width="1.01" height="1.04"/><rect class="m1" x="2" y="37" width="1.01" height="1.04"/><rect class="m1" x="3" y="37" width="1.01" height="1.04"/><rect class="m1" x="4" y="37" width="1.01" height="1.04"/><rect class="m2" x="5" y="37" width="1.01" height="1.04"/><rect class="m2" x="6" y="37" width="1.01" height="1.04"/><rect class="m1" x="7" y="37" width="1.01" height="1.04"/><rect class="z" x="8" y="37" width="1.01" height="1.04"/>
<rect class="p8" x="0" y="38" width="1.01" height="1.04"/><rect class="p1" x="1" y="38" width="1.01" height="1.04"/><rect class="m2" x="2" y="38" width="1.01" height="1.04"/><rect class="z" x="3" y="38" width="1.01" height="1.04"/><rect class="m1" x="4" y="38" width="1.01" height="1.04"/><rect class="m2" x="5" y="38" width="1.01" height="1.04"/><rect class="m2" x="6" y="38" width="1.01" height="1.04"/><rect class="m2" x="7" y="38" width="1.01" height="1.04"/><rect class="p2" x="8" y="38" width="1.01" height="1.04"/>
<rect class="p7" x="0" y="39" width="1.01" height="1.04"/><rect class="p1" x="1" y="39" width="1.01" height="1.04"/><rect class="m2" x="2" y="39" width="1.01" height="1.04"/><rect class="z" x="3" y="39" width="1.01" height="1.04"/><rect class="m2" x="4" y="39" width="1.01" height="1.04"/><rect class="m5" x="5" y="39" width="1.01" height="1.04"/><rect class="m2" x="6" y="39" width="1.01" height="1.04"/><rect class="z" x="7" y="39" width="1.01" height="1.04"/><rect class="p2" x="8" y="39" width="1.01" height="1.04"/>
<rect class="p7" x="0" y="40" width="1.01" height="1.04"/><rect class="z" x="1" y="40" width="1.01" height="1.04"/><rect class="m2" x="2" y="40" width="1.01" height="1.04"/><rect class="p1" x="3" y="40" width="1.01" height="1.04"/><rect class="m1" x="4" y="40" width="1.01" height="1.04"/><rect class="m2" x="5" y="40" width="1.01" height="1.04"/><rect class="m5" x="6" y="40" width="1.01" height="1.04"/><rect class="m1" x="7" y="40" width="1.01" height="1.04"/><rect class="p3" x="8" y="40" width="1.01" height="1.04"/>
<rect class="p7" x="0" y="41" width="1.01" height="1.04"/><rect class="p4" x="1" y="41" width="1.01" height="1.04"/><rect class="m1" x="2" y="41" width="1.01" height="1.04"/><rect class="m1" x="3" y="41" width="1.01" height="1.04"/><rect class="m3" x="4" y="41" width="1.01" height="1.04"/><rect class="m3" x="5" y="41" width="1.01" height="1.04"/><rect class="m3" x="6" y="41" width="1.01" height="1.04"/><rect class="z" x="7" y="41" width="1.01" height="1.04"/><rect class="m1" x="8" y="41" width="1.01" height="1.04"/>
<rect class="p7" x="0" y="42" width="1.01" height="1.04"/><rect class="p2" x="1" y="42" width="1.01" height="1.04"/><rect class="z" x="2" y="42" width="1.01" height="1.04"/><rect class="m4" x="3" y="42" width="1.01" height="1.04"/><rect class="z" x="4" y="42" width="1.01" height="1.04"/><rect class="m3" x="5" y="42" width="1.01" height="1.04"/><rect class="m4" x="6" y="42" width="1.01" height="1.04"/><rect class="p1" x="7" y="42" width="1.01" height="1.04"/><rect class="z" x="8" y="42" width="1.01" height="1.04"/>
<rect class="p7" x="0" y="43" width="1.01" height="1.04"/><rect class="p2" x="1" y="43" width="1.01" height="1.04"/><rect class="m1" x="2" y="43" width="1.01" height="1.04"/><rect class="m1" x="3" y="43" width="1.01" height="1.04"/><rect class="m1" x="4" y="43" width="1.01" height="1.04"/><rect class="m4" x="5" y="43" width="1.01" height="1.04"/><rect class="m4" x="6" y="43" width="1.01" height="1.04"/><rect class="z" x="7" y="43" width="1.01" height="1.04"/><rect class="p1" x="8" y="43" width="1.01" height="1.04"/>
<rect class="p6" x="0" y="44" width="1.01" height="1.04"/><rect class="p3" x="1" y="44" width="1.01" height="1.04"/><rect class="m2" x="2" y="44" width="1.01" height="1.04"/><rect class="m1" x="3" y="44" width="1.01" height="1.04"/><rect class="m1" x="4" y="44" width="1.01" height="1.04"/><rect class="m4" x="5" y="44" width="1.01" height="1.04"/><rect class="m3" x="6" y="44" width="1.01" height="1.04"/><rect class="z" x="7" y="44" width="1.01" height="1.04"/><rect class="p1" x="8" y="44" width="1.01" height="1.04"/>
<rect class="p7" x="0" y="45" width="1.01" height="1.04"/><rect class="p2" x="1" y="45" width="1.01" height="1.04"/><rect class="m3" x="2" y="45" width="1.01" height="1.04"/><rect class="m2" x="3" y="45" width="1.01" height="1.04"/><rect class="m1" x="4" y="45" width="1.01" height="1.04"/><rect class="p1" x="5" y="45" width="1.01" height="1.04"/><rect class="m1" x="6" y="45" width="1.01" height="1.04"/><rect class="p1" x="7" y="45" width="1.01" height="1.04"/><rect class="m4" x="8" y="45" width="1.01" height="1.04"/>
<rect class="p8" x="0" y="46" width="1.01" height="1.04"/><rect class="m1" x="1" y="46" width="1.01" height="1.04"/><rect class="m1" x="2" y="46" width="1.01" height="1.04"/><rect class="m1" x="3" y="46" width="1.01" height="1.04"/><rect class="z" x="4" y="46" width="1.01" height="1.04"/><rect class="m2" x="5" y="46" width="1.01" height="1.04"/><rect class="m2" x="6" y="46" width="1.01" height="1.04"/><rect class="z" x="7" y="46" width="1.01" height="1.04"/><rect class="m1" x="8" y="46" width="1.01" height="1.04"/>
<rect class="p8" x="0" y="47" width="1.01" height="1"/><rect class="m1" x="1" y="47" width="1.01" height="1"/><rect class="m1" x="2" y="47" width="1.01" height="1"/><rect class="m1" x="3" y="47" width="1.01" height="1"/><rect class="m1" x="4" y="47" width="1.01" height="1"/><rect class="p1" x="5" y="47" width="1.01" height="1"/><rect class="m2" x="6" y="47" width="1.01" height="1"/><rect class="m1" x="7" y="47" width="1.01" height="1"/><rect class="m1" x="8" y="47" width="1" height="1"/>
</g>

<!-- Panel B dendrogram -->
<path class="dg" d="M202,1125H186V1160H202M202,1090H132V1142.5H186M202,1194H108V1229H202M132,1116H83V1211.5H108M202,1299H155V1333H202M202,1368H159V1403H202M202,1438H153V1473H202M159,1385.5H134V1455.5H153M155,1316H101V1420.5H134M202,1264H60V1368H101M83,1164H40V1316H60M202,1507H131V1542H202M202,1577H151V1612H202M131,1524.5H129V1594.5H151M202,1681H155V1716H202M202,1647H142V1698.5H155M202,1751H182V1786H202M202,1890H191V1925H202M202,1855H188V1907.5H191M202,1821H168V1881H188M182,1768.5H166V1851H168M202,1960H146V1994H202M166,1810H138V1977H146M202,2168H183V2203H202M202,2134H181V2185.5H183M202,2099H172V2160H181M202,2064H168V2129.5H172M202,2029H163V2097H168M202,2273H176V2308H202M202,2238H154V2290.5H176M163,2063H129V2264H154M138,1893.5H115V2163.5H129M202,2377H176V2412H202M202,2447H162V2482H202M176,2394.5H150V2464.5H162M202,2342H136V2429.5H150M202,2586H182V2621H202M202,2551H166V2603.5H182M202,2516H157V2577H166M202,2690H170V2725H202M202,2655H136V2707.5H170M157,2546.5H123V2681H136M136,2386H101V2614H123M115,2028.5H65V2500H101M142,1673H54V2264H65M129,1559.5H23V1968.5H54M40,1240H4V1764H23"/>

<!-- Panel B row labels -->
<g class="rl">
<text x="1498" y="1102">GhCOI8A-A08</text><text x="1498" y="1137">GhCOI8C-A08</text><text x="1498" y="1172">GhCOI8C-D08</text><text x="1498" y="1206">GhCOI8A-D08</text><text x="1498" y="1241">GhCOI6-D10</text><text x="1498" y="1276">GhCOI6-A06</text><text x="1498" y="1311">GhCOI5-A06</text><text x="1498" y="1345">GhCOI5-D06</text><text x="1498" y="1380">GhCOI8B-A08</text><text x="1498" y="1415">GhCOI8B-D08</text><text x="1498" y="1450">GhCOI8-A11</text><text x="1498" y="1485">GhCOI8-D11</text><text x="1498" y="1519">GhCOI6-D12</text><text x="1498" y="1554">GhCOI11-D10</text><text x="1498" y="1589">GhCOI9-A08</text><text x="1498" y="1624">GhCOI11-A10</text><text x="1498" y="1659">GhCOI4-D05</text><text x="1498" y="1693">GhCOI1-A05</text><text x="1498" y="1728">GhCOI1-D05</text><text x="1498" y="1763">GhCOI7-A11</text><text x="1498" y="1798">GhCOI7-D11</text><text x="1498" y="1833">GhCOI2-D10</text><text x="1498" y="1867">GhCOI1-A06</text><text x="1498" y="1902">GhCOI1-D01</text><text x="1498" y="1937">GhCOI1-D06</text><text x="1498" y="1972">GhCOI2-A10</text><text x="1498" y="2006">GhCOI7-D07</text><text x="1498" y="2041">GhCOI9A-A11</text><text x="1498" y="2076">GhCOI7-A07</text><text x="1498" y="2111">GhCOI5-D05</text><text x="1498" y="2146">GhCOI5-A05</text><text x="1498" y="2180">GhCOI10-A09</text><text x="1498" y="2215">GhCOI10-D09</text><text x="1498" y="2250">GhCOI6-A12</text><text x="1498" y="2285">GhCOI1-A01</text><text x="1498" y="2320">GhCOI3-D04</text><text x="1498" y="2354">GhCOI2-A02</text><text x="1498" y="2389">GhCOI9B-A11</text><text x="1498" y="2424">GhCOI9B-D11</text><text x="1498" y="2459">GhCOI3-A05</text><text x="1498" y="2494">GhCOI9-D08</text><text x="1498" y="2528">GhCOI2-D03</text><text x="1498" y="2563">GhCOI10-A12</text><text x="1498" y="2598">GhCOI6-A10</text><text x="1498" y="2633">GhCOI10-D12</text><text x="1498" y="2667">GhCOI9A-D11</text><text x="1498" y="2702">GhCOI4-A05</text><text x="1498" y="2737">GhCOI6-D06</text>
</g>

<!-- Panel B column labels -->
<g class="cl">
<text transform="translate(289 2752) rotate(-90) scale(1 1.45)">12 h-NaCl</text>
<text transform="translate(432 2752) rotate(-90) scale(1 1.45)">6 h-NaCl</text>
<text transform="translate(575 2752) rotate(-90) scale(1 1.45)">3 h-NaCl</text>
<text transform="translate(718 2752) rotate(-90) scale(1 1.45)">1 h-NaCl</text>
<text transform="translate(861 2752) rotate(-90) scale(1 1.45)">CK</text>
<text transform="translate(1003 2752) rotate(-90) scale(1 1.45)">1 h-PEG</text>
<text transform="translate(1146 2752) rotate(-90) scale(1 1.45)">3 h-PEG</text>
<text transform="translate(1289 2752) rotate(-90) scale(1 1.45)">6 h-PEG</text>
<text transform="translate(1432 2752) rotate(-90) scale(1 1.45)">12 h-PEG</text>
</g>

<!-- Panel B colorbar -->
<rect x="1781" y="1072" width="39" height="564" fill="url(#cb)"/>
<g class="tk">
<text x="1835" y="1153">2</text><text x="1835" y="1261">1</text><text x="1835" y="1368">0</text><text x="1835" y="1477">−1</text><text x="1835" y="1583">−2</text>
</g>

<!-- Panel C heatmap -->
<g transform="translate(2146.3 1066) scale(142.85 35.08)">
<rect class="m2" x="0" y="0" width="1.01" height="1.04"/><rect class="p1" x="1" y="0" width="1.01" height="1.04"/><rect class="p6" x="2" y="0" width="1.01" height="1.04"/><rect class="p1" x="3" y="0" width="1.01" height="1.04"/><rect class="m5" x="4" y="0" width="1.01" height="1.04"/><rect class="m5" x="5" y="0" width="1.01" height="1.04"/><rect class="z" x="6" y="0" width="1.01" height="1.04"/><rect class="p1" x="7" y="0" width="1.01" height="1.04"/><rect class="p1" x="8" y="0" width="1.01" height="1.04"/>
<rect class="m4" x="0" y="1" width="1.01" height="1.04"/><rect class="z" x="1" y="1" width="1.01" height="1.04"/><rect class="p3" x="2" y="1" width="1.01" height="1.04"/><rect class="p7" x="3" y="1" width="1.01" height="1.04"/><rect class="z" x="4" y="1" width="1.01" height="1.04"/><rect class="z" x="5" y="1" width="1.01" height="1.04"/><rect class="m3" x="6" y="1" width="1.01" height="1.04"/><rect class="m3" x="7" y="1" width="1.01" height="1.04"/><rect class="p2" x="8" y="1" width="1.01" height="1.04"/>
<rect class="p2" x="0" y="2" width="1.01" height="1.04"/><rect class="p5" x="1" y="2" width="1.01" height="1.04"/><rect class="p1" x="2" y="2" width="1.01" height="1.04"/><rect class="p5" x="3" y="2" width="1.01" height="1.04"/><rect class="m2" x="4" y="2" width="1.01" height="1.04"/><rect class="m1" x="5" y="2" width="1.01" height="1.04"/><rect class="m3" x="6" y="2" width="1.01" height="1.04"/><rect class="m3" x="7" y="2" width="1.01" height="1.04"/><rect class="m5" x="8" y="2" width="1.01" height="1.04"/>
<rect class="z" x="0" y="3" width="1.01" height="1.04"/><rect class="p3" x="1" y="3" width="1.01" height="1.04"/><rect class="p1" x="2" y="3" width="1.01" height="1.04"/><rect class="p7" x="3" y="3" width="1.01" height="1.04"/><rect class="m2" x="4" y="3" width="1.01" height="1.04"/><rect class="z" x="5" y="3" width="1.01" height="1.04"/><rect class="m2" x="6" y="3" width="1.01" height="1.04"/><rect class="m4" x="7" y="3" width="1.01" height="1.04"/><rect class="m4" x="8" y="3" width="1.01" height="1.04"/>
<rect class="p2" x="0" y="4" width="1.01" height="1.04"/><rect class="p8" x="1" y="4" width="1.01" height="1.04"/><rect class="m2" x="2" y="4" width="1.01" height="1.04"/><rect class="z" x="3" y="4" width="1.01" height="1.04"/><rect class="p1" x="4" y="4" width="1.01" height="1.04"/><rect class="m3" x="5" y="4" width="1.01" height="1.04"/><rect class="m3" x="6" y="4" width="1.01" height="1.04"/><rect class="m3" x="7" y="4" width="1.01" height="1.04"/><rect class="m2" x="8" y="4" width="1.01" height="1.04"/>
<rect class="z" x="0" y="5" width="1.01" height="1.04"/><rect class="p7" x="1" y="5" width="1.01" height="1.04"/><rect class="m1" x="2" y="5" width="1.01" height="1.04"/><rect class="p2" x="3" y="5" width="1.01" height="1.04"/><rect class="m1" x="4" y="5" width="1.01" height="1.04"/><rect class="m2" x="5" y="5" width="1.01" height="1.04"/><rect class="m1" x="6" y="5" width="1.01" height="1.04"/><rect class="m6" x="7" y="5" width="1.01" height="1.04"/><rect class="p1" x="8" y="5" width="1.01" height="1.04"/>
<rect class="p4" x="0" y="6" width="1.01" height="1.04"/><rect class="p1" x="1" y="6" width="1.01" height="1.04"/><rect class="m4" x="2" y="6" width="1.01" height="1.04"/><rect class="m5" x="3" y="6" width="1.01" height="1.04"/><rect class="z" x="4" y="6" width="1.01" height="1.04"/><rect class="z" x="5" y="6" width="1.01" height="1.04"/><rect class="m4" x="6" y="6" width="1.01" height="1.04"/><rect class="p3" x="7" y="6" width="1.01" height="1.04"/><rect class="p3" x="8" y="6" width="1.01" height="1.04"/>
<rect class="z" x="0" y="7" width="1.01" height="1.04"/><rect class="p7" x="1" y="7" width="1.01" height="1.04"/><rect class="m3" x="2" y="7" width="1.01" height="1.04"/><rect class="m1" x="3" y="7" width="1.01" height="1.04"/><rect class="z" x="4" y="7" width="1.01" height="1.04"/><rect class="m3" x="5" y="7" width="1.01" height="1.04"/><rect class="m3" x="6" y="7" width="1.01" height="1.04"/><rect class="p1" x="7" y="7" width="1.01" height="1.04"/><rect class="p2" x="8" y="7" width="1.01" height="1.04"/>
<rect class="p4" x="0" y="8" width="1.01" height="1.04"/><rect class="p4" x="1" y="8" width="1.01" height="1.04"/><rect class="m5" x="2" y="8" width="1.01" height="1.04"/><rect class="m4" x="3" y="8" width="1.01" height="1.04"/><rect class="z" x="4" y="8" width="1.01" height="1.04"/><rect class="m2" x="5" y="8" width="1.01" height="1.04"/><rect class="m2" x="6" y="8" width="1.01" height="1.04"/><rect class="z" x="7" y="8" width="1.01" height="1.04"/><rect class="p3" x="8" y="8" width="1.01" height="1.04"/>
<rect class="p2" x="0" y="9" width="1.01" height="1.04"/><rect class="p4" x="1" y="9" width="1.01" height="1.04"/><rect class="m4" x="2" y="9" width="1.01" height="1.04"/><rect class="m2" x="3" y="9" width="1.01" height="1.04"/><rect class="m1" x="4" y="9" width="1.01" height="1.04"/><rect class="m4" x="5" y="9" width="1.01" height="1.04"/><rect class="m2" x="6" y="9" width="1.01" height="1.04"/><rect class="p1" x="7" y="9" width="1.01" height="1.04"/><rect class="p5" x="8" y="9" width="1.01" height="1.04"/>
<rect class="m1" x="0" y="10" width="1.01" height="1.04"/><rect class="p1" x="1" y="10" width="1.01" height="1.04"/><rect class="m2" x="2" y="10" width="1.01" height="1.04"/><rect class="z" x="3" y="10" width="1.01" height="1.04"/><rect class="p2" x="4" y="10" width="1.01" height="1.04"/><rect class="m4" x="5" y="10" width="1.01" height="1.04"/><rect class="m4" x="6" y="10" width="1.01" height="1.04"/><rect class="z" x="7" y="10" width="1.01" height="1.04"/><rect class="p7" x="8" y="10" width="1.01" height="1.04"/>
<rect class="m1" x="0" y="11" width="1.01" height="1.04"/><rect class="p1" x="1" y="11" width="1.01" height="1.04"/><rect class="m3" x="2" y="11" width="1.01" height="1.04"/><rect class="m1" x="3" y="11" width="1.01" height="1.04"/><rect class="p1" x="4" y="11" width="1.01" height="1.04"/><rect class="m3" x="5" y="11" width="1.01" height="1.04"/><rect class="m3" x="6" y="11" width="1.01" height="1.04"/><rect class="p1" x="7" y="11" width="1.01" height="1.04"/><rect class="p8" x="8" y="11" width="1.01" height="1.04"/>
<rect class="m3" x="0" y="12" width="1.01" height="1.04"/><rect class="z" x="1" y="12" width="1.01" height="1.04"/><rect class="m2" x="2" y="12" width="1.01" height="1.04"/><rect class="p2" x="3" y="12" width="1.01" height="1.04"/><rect class="p1" x="4" y="12" width="1.01" height="1.04"/><rect class="m2" x="5" y="12" width="1.01" height="1.04"/><rect class="m2" x="6" y="12" width="1.01" height="1.04"/><rect class="m2" x="7" y="12" width="1.01" height="1.04"/><rect class="p7" x="8" y="12" width="1.01" height="1.04"/>
<rect class="m3" x="0" y="13" width="1.01" height="1.04"/><rect class="p1" x="1" y="13" width="1.01" height="1.04"/><rect class="m4" x="2" y="13" width="1.01" height="1.04"/><rect class="p2" x="3" y="13" width="1.01" height="1.04"/><rect class="z" x="4" y="13" width="1.01" height="1.04"/><rect class="z" x="5" y="13" width="1.01" height="1.04"/><rect class="m2" x="6" y="13" width="1.01" height="1.04"/><rect class="m1" x="7" y="13" width="1.01" height="1.04"/><rect class="p7" x="8" y="13" width="1.01" height="1.04"/>
<rect class="m2" x="0" y="14" width="1.01" height="1.04"/><rect class="m2" x="1" y="14" width="1.01" height="1.04"/><rect class="p5" x="2" y="14" width="1.01" height="1.04"/><rect class="z" x="3" y="14" width="1.01" height="1.04"/><rect class="m1" x="4" y="14" width="1.01" height="1.04"/><rect class="m2" x="5" y="14" width="1.01" height="1.04"/><rect class="m2" x="6" y="14" width="1.01" height="1.04"/><rect class="m2" x="7" y="14" width="1.01" height="1.04"/><rect class="p6" x="8" y="14" width="1.01" height="1.04"/>
<rect class="z" x="0" y="15" width="1.01" height="1.04"/><rect class="m3" x="1" y="15" width="1.01" height="1.04"/><rect class="z" x="2" y="15" width="1.01" height="1.04"/><rect class="p3" x="3" y="15" width="1.01" height="1.04"/><rect class="m2" x="4" y="15" width="1.01" height="1.04"/><rect class="m3" x="5" y="15" width="1.01" height="1.04"/><rect class="z" x="6" y="15" width="1.01" height="1.04"/><rect class="m3" x="7" y="15" width="1.01" height="1.04"/><rect class="p6" x="8" y="15" width="1.01" height="1.04"/>
<rect class="z" x="0" y="16" width="1.01" height="1.04"/><rect class="m4" x="1" y="16" width="1.01" height="1.04"/><rect class="z" x="2" y="16" width="1.01" height="1.04"/><rect class="p1" x="3" y="16" width="1.01" height="1.04"/><rect class="m2" x="4" y="16" width="1.01" height="1.04"/><rect class="m3" x="5" y="16" width="1.01" height="1.04"/><rect class="p1" x="6" y="16" width="1.01" height="1.04"/><rect class="z" x="7" y="16" width="1.01" height="1.04"/><rect class="p8" x="8" y="16" width="1.01" height="1.04"/>
<rect class="m3" x="0" y="17" width="1.01" height="1.04"/><rect class="m4" x="1" y="17" width="1.01" height="1.04"/><rect class="m1" x="2" y="17" width="1.01" height="1.04"/><rect class="p1" x="3" y="17" width="1.01" height="1.04"/><rect class="m1" x="4" y="17" width="1.01" height="1.04"/><rect class="m2" x="5" y="17" width="1.01" height="1.04"/><rect class="p1" x="6" y="17" width="1.01" height="1.04"/><rect class="z" x="7" y="17" width="1.01" height="1.04"/><rect class="p8" x="8" y="17" width="1.01" height="1.04"/>
<rect class="m6" x="0" y="18" width="1.01" height="1.04"/><rect class="m4" x="1" y="18" width="1.01" height="1.04"/><rect class="m3" x="2" y="18" width="1.01" height="1.04"/><rect class="z" x="3" y="18" width="1.01" height="1.04"/><rect class="m1" x="4" y="18" width="1.01" height="1.04"/><rect class="p3" x="5" y="18" width="1.01" height="1.04"/><rect class="p1" x="6" y="18" width="1.01" height="1.04"/><rect class="p5" x="7" y="18" width="1.01" height="1.04"/><rect class="p1" x="8" y="18" width="1.01" height="1.04"/>
<rect class="m4" x="0" y="19" width="1.01" height="1.04"/><rect class="m4" x="1" y="19" width="1.01" height="1.04"/><rect class="m4" x="2" y="19" width="1.01" height="1.04"/><rect class="m3" x="3" y="19" width="1.01" height="1.04"/><rect class="z" x="4" y="19" width="1.01" height="1.04"/><rect class="p1" x="5" y="19" width="1.01" height="1.04"/><rect class="p3" x="6" y="19" width="1.01" height="1.04"/><rect class="p3" x="7" y="19" width="1.01" height="1.04"/><rect class="p4" x="8" y="19" width="1.01" height="1.04"/>
<rect class="m4" x="0" y="20" width="1.01" height="1.04"/><rect class="m4" x="1" y="20" width="1.01" height="1.04"/><rect class="m5" x="2" y="20" width="1.01" height="1.04"/><rect class="p2" x="3" y="20" width="1.01" height="1.04"/><rect class="m1" x="4" y="20" width="1.01" height="1.04"/><rect class="m1" x="5" y="20" width="1.01" height="1.04"/><rect class="p4" x="6" y="20" width="1.01" height="1.04"/><rect class="p2" x="7" y="20" width="1.01" height="1.04"/><rect class="p5" x="8" y="20" width="1.01" height="1.04"/>
<rect class="p2" x="0" y="21" width="1.01" height="1.04"/><rect class="m2" x="1" y="21" width="1.01" height="1.04"/><rect class="m3" x="2" y="21" width="1.01" height="1.04"/><rect class="m3" x="3" y="21" width="1.01" height="1.04"/><rect class="z" x="4" y="21" width="1.01" height="1.04"/><rect class="m3" x="5" y="21" width="1.01" height="1.04"/><rect class="m2" x="6" y="21" width="1.01" height="1.04"/><rect class="p4" x="7" y="21" width="1.01" height="1.04"/><rect class="p5" x="8" y="21" width="1.01" height="1.04"/>
<rect class="p1" x="0" y="22" width="1.01" height="1.04"/><rect class="m3" x="1" y="22" width="1.01" height="1.04"/><rect class="m3" x="2" y="22" width="1.01" height="1.04"/><rect class="m4" x="3" y="22" width="1.01" height="1.04"/><rect class="m1" x="4" y="22" width="1.01" height="1.04"/><rect class="m3" x="5" y="22" width="1.01" height="1.04"/><rect class="p1" x="6" y="22" width="1.01" height="1.04"/><rect class="p4" x="7" y="22" width="1.01" height="1.04"/><rect class="p6" x="8" y="22" width="1.01" height="1.04"/>
<rect class="z" x="0" y="23" width="1.01" height="1.04"/><rect class="m4" x="1" y="23" width="1.01" height="1.04"/><rect class="m3" x="2" y="23" width="1.01" height="1.04"/><rect class="m3" x="3" y="23" width="1.01" height="1.04"/><rect class="p2" x="4" y="23" width="1.01" height="1.04"/><rect class="m3" x="5" y="23" width="1.01" height="1.04"/><rect class="p1" x="6" y="23" width="1.01" height="1.04"/><rect class="p3" x="7" y="23" width="1.01" height="1.04"/><rect class="p5" x="8" y="23" width="1.01" height="1.04"/>
<rect class="m1" x="0" y="24" width="1.01" height="1.04"/><rect class="m3" x="1" y="24" width="1.01" height="1.04"/><rect class="m2" x="2" y="24" width="1.01" height="1.04"/><rect class="m3" x="3" y="24" width="1.01" height="1.04"/><rect class="z" x="4" y="24" width="1.01" height="1.04"/><rect class="m4" x="5" y="24" width="1.01" height="1.04"/><rect class="p1" x="6" y="24" width="1.01" height="1.04"/><rect class="p3" x="7" y="24" width="1.01" height="1.04"/><rect class="p6" x="8" y="24" width="1.01" height="1.04"/>
<rect class="z" x="0" y="25" width="1.01" height="1.04"/><rect class="m3" x="1" y="25" width="1.01" height="1.04"/><rect class="m2" x="2" y="25" width="1.01" height="1.04"/><rect class="m3" x="3" y="25" width="1.01" height="1.04"/><rect class="z" x="4" y="25" width="1.01" height="1.04"/><rect class="m4" x="5" y="25" width="1.01" height="1.04"/><rect class="p1" x="6" y="25" width="1.01" height="1.04"/><rect class="p3" x="7" y="25" width="1.01" height="1.04"/><rect class="p6" x="8" y="25" width="1.01" height="1.04"/>
<rect class="m2" x="0" y="26" width="1.01" height="1.04"/><rect class="m1" x="1" y="26" width="1.01" height="1.04"/><rect class="m6" x="2" y="26" width="1.01" height="1.04"/><rect class="p1" x="3" y="26" width="1.01" height="1.04"/><rect class="z" x="4" y="26" width="1.01" height="1.04"/><rect class="m3" x="5" y="26" width="1.01" height="1.04"/><rect class="m1" x="6" y="26" width="1.01" height="1.04"/><rect class="p5" x="7" y="26" width="1.01" height="1.04"/><rect class="p5" x="8" y="26" width="1.01" height="1.04"/>
<rect class="m3" x="0" y="27" width="1.01" height="1.04"/><rect class="m2" x="1" y="27" width="1.01" height="1.04"/><rect class="m6" x="2" y="27" width="1.01" height="1.04"/><rect class="z" x="3" y="27" width="1.01" height="1.04"/><rect class="z" x="4" y="27" width="1.01" height="1.04"/><rect class="p1" x="5" y="27" width="1.01" height="1.04"/><rect class="m1" x="6" y="27" width="1.01" height="1.04"/><rect class="p4" x="7" y="27" width="1.01" height="1.04"/><rect class="p6" x="8" y="27" width="1.01" height="1.04"/>
<rect class="m3" x="0" y="28" width="1.01" height="1.04"/><rect class="m4" x="1" y="28" width="1.01" height="1.04"/><rect class="z" x="2" y="28" width="1.01" height="1.04"/><rect class="z" x="3" y="28" width="1.01" height="1.04"/><rect class="m1" x="4" y="28" width="1.01" height="1.04"/><rect class="m4" x="5" y="28" width="1.01" height="1.04"/><rect class="m1" x="6" y="28" width="1.01" height="1.04"/><rect class="p4" x="7" y="28" width="1.01" height="1.04"/><rect class="p6" x="8" y="28" width="1.01" height="1.04"/>
<rect class="m3" x="0" y="29" width="1.01" height="1.04"/><rect class="m1" x="1" y="29" width="1.01" height="1.04"/><rect class="m3" x="2" y="29" width="1.01" height="1.04"/><rect class="m2" x="3" y="29" width="1.01" height="1.04"/><rect class="z" x="4" y="29" width="1.01" height="1.04"/><rect class="m2" x="5" y="29" width="1.01" height="1.04"/><rect class="z" x="6" y="29" width="1.01" height="1.04"/><rect class="p6" x="7" y="29" width="1.01" height="1.04"/><rect class="p5" x="8" y="29" width="1.01" height="1.04"/>
<rect class="m2" x="0" y="30" width="1.01" height="1.04"/><rect class="m3" x="1" y="30" width="1.01" height="1.04"/><rect class="m2" x="2" y="30" width="1.01" height="1.04"/><rect class="m2" x="3" y="30" width="1.01" height="1.04"/><rect class="z" x="4" y="30" width="1.01" height="1.04"/><rect class="m2" x="5" y="30" width="1.01" height="1.04"/><rect class="m1" x="6" y="30" width="1.01" height="1.04"/><rect class="p5" x="7" y="30" width="1.01" height="1.04"/><rect class="p6" x="8" y="30" width="1.01" height="1.04"/>
<rect class="m1" x="0" y="31" width="1.01" height="1.04"/><rect class="z" x="1" y="31" width="1.01" height="1.04"/><rect class="m3" x="2" y="31" width="1.01" height="1.04"/><rect class="m2" x="3" y="31" width="1.01" height="1.04"/><rect class="z" x="4" y="31" width="1.01" height="1.04"/><rect class="m2" x="5" y="31" width="1.01" height="1.04"/><rect class="m2" x="6" y="31" width="1.01" height="1.04"/><rect class="p2" x="7" y="31" width="1.01" height="1.04"/><rect class="p8" x="8" y="31" width="1.01" height="1.04"/>
<rect class="m1" x="0" y="32" width="1.01" height="1.04"/><rect class="m1" x="1" y="32" width="1.01" height="1.04"/><rect class="m4" x="2" y="32" width="1.01" height="1.04"/><rect class="m2" x="3" y="32" width="1.01" height="1.04"/><rect class="m1" x="4" y="32" width="1.01" height="1.04"/><rect class="m3" x="5" y="32" width="1.01" height="1.04"/><rect class="p1" x="6" y="32" width="1.01" height="1.04"/><rect class="p1" x="7" y="32" width="1.01" height="1.04"/><rect class="p8" x="8" y="32" width="1.01" height="1.04"/>
<rect class="m4" x="0" y="33" width="1.01" height="1.04"/><rect class="m1" x="1" y="33" width="1.01" height="1.04"/><rect class="m3" x="2" y="33" width="1.01" height="1.04"/><rect class="m2" x="3" y="33" width="1.01" height="1.04"/><rect class="m1" x="4" y="33" width="1.01" height="1.04"/><rect class="p2" x="5" y="33" width="1.01" height="1.04"/><rect class="z" x="6" y="33" width="1.01" height="1.04"/><rect class="p2" x="7" y="33" width="1.01" height="1.04"/><rect class="p7" x="8" y="33" width="1.01" height="1.04"/>
<rect class="m2" x="0" y="34" width="1.01" height="1.04"/><rect class="m3" x="1" y="34" width="1.01" height="1.04"/><rect class="m4" x="2" y="34" width="1.01" height="1.04"/><rect class="m3" x="3" y="34" width="1.01" height="1.04"/><rect class="z" x="4" y="34" width="1.01" height="1.04"/><rect class="p1" x="5" y="34" width="1.01" height="1.04"/><rect class="p1" x="6" y="34" width="1.01" height="1.04"/><rect class="p4" x="7" y="34" width="1.01" height="1.04"/><rect class="p6" x="8" y="34" width="1.01" height="1.04"/>
<rect class="m3" x="0" y="35" width="1.01" height="1.04"/><rect class="m4" x="1" y="35" width="1.01" height="1.04"/><rect class="m2" x="2" y="35" width="1.01" height="1.04"/><rect class="m1" x="3" y="35" width="1.01" height="1.04"/><rect class="z" x="4" y="35" width="1.01" height="1.04"/><rect class="z" x="5" y="35" width="1.01" height="1.04"/><rect class="p1" x="6" y="35" width="1.01" height="1.04"/><rect class="p3" x="7" y="35" width="1.01" height="1.04"/><rect class="p7" x="8" y="35" width="1.01" height="1.04"/>
<rect class="m3" x="0" y="36" width="1.01" height="1.04"/><rect class="m3" x="1" y="36" width="1.01" height="1.04"/><rect class="m3" x="2" y="36" width="1.01" height="1.04"/><rect class="m1" x="3" y="36" width="1.01" height="1.04"/><rect class="p1" x="4" y="36" width="1.01" height="1.04"/><rect class="z" x="5" y="36" width="1.01" height="1.04"/><rect class="z" x="6" y="36" width="1.01" height="1.04"/><rect class="p3" x="7" y="36" width="1.01" height="1.04"/><rect class="p7" x="8" y="36" width="1.01" height="1.04"/>
<rect class="m3" x="0" y="37" width="1.01" height="1.04"/><rect class="m3" x="1" y="37" width="1.01" height="1.04"/><rect class="m3" x="2" y="37" width="1.01" height="1.04"/><rect class="m1" x="3" y="37" width="1.01" height="1.04"/><rect class="z" x="4" y="37" width="1.01" height="1.04"/><rect class="m1" x="5" y="37" width="1.01" height="1.04"/><rect class="p1" x="6" y="37" width="1.01" height="1.04"/><rect class="p3" x="7" y="37" width="1.01" height="1.04"/><rect class="p7" x="8" y="37" width="1.01" height="1.04"/>
<rect class="p8" x="0" y="38" width="1.01" height="1.04"/><rect class="z" x="1" y="38" width="1.01" height="1.04"/><rect class="m2" x="2" y="38" width="1.01" height="1.04"/><rect class="m2" x="3" y="38" width="1.01" height="1.04"/><rect class="m1" x="4" y="38" width="1.01" height="1.04"/><rect class="m4" x="5" y="38" width="1.01" height="1.04"/><rect class="p1" x="6" y="38" width="1.01" height="1.04"/><rect class="z" x="7" y="38" width="1.01" height="1.04"/><rect class="z" x="8" y="38" width="1.01" height="1.04"/>
<rect class="p7" x="0" y="39" width="1.01" height="1.04"/><rect class="p2" x="1" y="39" width="1.01" height="1.04"/><rect class="m1" x="2" y="39" width="1.01" height="1.04"/><rect class="m2" x="3" y="39" width="1.01" height="1.04"/><rect class="m1" x="4" y="39" width="1.01" height="1.04"/><rect class="m4" x="5" y="39" width="1.01" height="1.04"/><rect class="m1" x="6" y="39" width="1.01" height="1.04"/><rect class="p1" x="7" y="39" width="1.01" height="1.04"/><rect class="z" x="8" y="39" width="1.01" height="1.04"/>
<rect class="p6" x="0" y="40" width="1.01" height="1.04"/><rect class="p1" x="1" y="40" width="1.01" height="1.04"/><rect class="m1" x="2" y="40" width="1.01" height="1.04"/><rect class="p2" x="3" y="40" width="1.01" height="1.04"/><rect class="m1" x="4" y="40" width="1.01" height="1.04"/><rect class="m2" x="5" y="40" width="1.01" height="1.04"/><rect class="m2" x="6" y="40" width="1.01" height="1.04"/><rect class="m5" x="7" y="40" width="1.01" height="1.04"/><rect class="p2" x="8" y="40" width="1.01" height="1.04"/>
<rect class="p6" x="0" y="41" width="1.01" height="1.04"/><rect class="m4" x="1" y="41" width="1.01" height="1.04"/><rect class="z" x="2" y="41" width="1.01" height="1.04"/><rect class="z" x="3" y="41" width="1.01" height="1.04"/><rect class="m1" x="4" y="41" width="1.01" height="1.04"/><rect class="p2" x="5" y="41" width="1.01" height="1.04"/><rect class="m2" x="6" y="41" width="1.01" height="1.04"/><rect class="m4" x="7" y="41" width="1.01" height="1.04"/><rect class="p2" x="8" y="41" width="1.01" height="1.04"/>
<rect class="p2" x="0" y="42" width="1.01" height="1.04"/><rect class="m5" x="1" y="42" width="1.01" height="1.04"/><rect class="m2" x="2" y="42" width="1.01" height="1.04"/><rect class="p2" x="3" y="42" width="1.01" height="1.04"/><rect class="m3" x="4" y="42" width="1.01" height="1.04"/><rect class="p4" x="5" y="42" width="1.01" height="1.04"/><rect class="p4" x="6" y="42" width="1.01" height="1.04"/><rect class="m3" x="7" y="42" width="1.01" height="1.04"/><rect class="m1" x="8" y="42" width="1.01" height="1.04"/>
<rect class="z" x="0" y="43" width="1.01" height="1.04"/><rect class="m7" x="1" y="43" width="1.01" height="1.04"/><rect class="p1" x="2" y="43" width="1.01" height="1.04"/><rect class="m2" x="3" y="43" width="1.01" height="1.04"/><rect class="p2" x="4" y="43" width="1.01" height="1.04"/><rect class="p2" x="5" y="43" width="1.01" height="1.04"/><rect class="z" x="6" y="43" width="1.01" height="1.04"/><rect class="m3" x="7" y="43" width="1.01" height="1.04"/><rect class="p4" x="8" y="43" width="1.01" height="1.04"/>
<rect class="p1" x="0" y="44" width="1.01" height="1.04"/><rect class="m6" x="1" y="44" width="1.01" height="1.04"/><rect class="m5" x="2" y="44" width="1.01" height="1.04"/><rect class="m2" x="3" y="44" width="1.01" height="1.04"/><rect class="z" x="4" y="44" width="1.01" height="1.04"/><rect class="p2" x="5" y="44" width="1.01" height="1.04"/><rect class="p2" x="6" y="44" width="1.01" height="1.04"/><rect class="m1" x="7" y="44" width="1.01" height="1.04"/><rect class="p4" x="8" y="44" width="1.01" height="1.04"/>
<rect class="m1" x="0" y="45" width="1.01" height="1.04"/><rect class="m7" x="1" y="45" width="1.01" height="1.04"/><rect class="m1" x="2" y="45" width="1.01" height="1.04"/><rect class="m1" x="3" y="45" width="1.01" height="1.04"/><rect class="m1" x="4" y="45" width="1.01" height="1.04"/><rect class="p3" x="5" y="45" width="1.01" height="1.04"/><rect class="p1" x="6" y="45" width="1.01" height="1.04"/><rect class="z" x="7" y="45" width="1.01" height="1.04"/><rect class="p6" x="8" y="45" width="1.01" height="1.04"/>
<rect class="m1" x="0" y="46" width="1.01" height="1.04"/><rect class="m7" x="1" y="46" width="1.01" height="1.04"/><rect class="m2" x="2" y="46" width="1.01" height="1.04"/><rect class="m1" x="3" y="46" width="1.01" height="1.04"/><rect class="m1" x="4" y="46" width="1.01" height="1.04"/><rect class="p2" x="5" y="46" width="1.01" height="1.04"/><rect class="p3" x="6" y="46" width="1.01" height="1.04"/><rect class="p3" x="7" y="46" width="1.01" height="1.04"/><rect class="p4" x="8" y="46" width="1.01" height="1.04"/>
<rect class="z" x="0" y="47" width="1.01" height="1"/><rect class="m7" x="1" y="47" width="1.01" height="1"/><rect class="m3" x="2" y="47" width="1.01" height="1"/><rect class="m1" x="3" y="47" width="1.01" height="1"/><rect class="m1" x="4" y="47" width="1.01" height="1"/><rect class="p2" x="5" y="47" width="1.01" height="1"/><rect class="p2" x="6" y="47" width="1.01" height="1"/><rect class="p3" x="7" y="47" width="1.01" height="1"/><rect class="p4" x="8" y="47" width="1" height="1"/>
</g>

<!-- Panel C dendrogram -->
<path class="dg" d="M2146,1154H2113V1189H2146M2146,1119H2037V1171.5H2113M2146,1084H2008V1145H2037M2146,1224H2092V1259H2146M2146,1364H2099V1399H2146M2146,1329H2080V1381.5H2099M2146,1294H2047V1355H2080M2092,1241.5H2000V1324.5H2047M2008,1114.5H1970V1283H2000M2146,1434H2126V1469H2146M2146,1505H2117V1540H2146M2126,1451.5H2086V1522.5H2117M2146,1645H2108V1680H2146M2146,1610H2086V1662.5H2108M2146,1575H2059V1636H2086M2086,1487H2042V1605.5H2059M2146,1750H2094V1785H2146M2146,1715H2067V1767.5H2094M2146,1926H2132V1961H2146M2146,1890H2112V1943.5H2132M2146,1855H2107V1917H2112M2146,1820H2092V1886H2107M2146,1996H2104V2031H2146M2146,2101H2114V2136H2146M2146,2066H2093V2118.5H2114M2104,2013.5H2079V2092H2093M2146,2171H2108V2206H2146M2146,2346H2124V2382H2146M2146,2311H2116V2364H2124M2146,2276H2112V2337.5H2116M2146,2241H2100V2307H2112M2108,2188.5H2078V2274H2100M2079,2053H2075V2231H2078M2092,1853H2055V2142H2075M2067,1741H2022V1997.5H2055M2042,1546H1995V1869H2022M2146,2417H2112V2452H2146M2146,2487H2063V2522H2146M2112,2434.5H2029V2504.5H2063M2146,2697H2123V2732H2146M2146,2662H2094V2714.5H2123M2146,2627H2086V2688H2094M2146,2592H2048V2657.5H2086M2146,2557H2025V2625H2048M2029,2469.5H1980V2591H2025M1995,1707.5H1959V2530H1980M1970,1199H1948V2119H1959"/>

<!-- Panel C row labels -->
<g class="rl">
<text x="3443" y="1096">GhCOI2-D03</text><text x="3443" y="1131">GhCOI6-A10</text><text x="3443" y="1166">GhCOI8C-A08</text><text x="3443" y="1201">GhCOI8C-D08</text><text x="3443" y="1236">GhCOI8-A11</text><text x="3443" y="1271">GhCOI8-D11</text><text x="3443" y="1306">GhCOI1-A05</text><text x="3443" y="1341">GhCOI9B-A11</text><text x="3443" y="1376">GhCOI1-D05</text><text x="3443" y="1411">GhCOI9B-D11</text><text x="3443" y="1446">GhCOI11-A10</text><text x="3443" y="1481">GhCOI11-D10</text><text x="3443" y="1517">GhCOI7-A07</text><text x="3443" y="1552">GhCOI7-D07</text><text x="3443" y="1587">GhCOI6-A06</text><text x="3443" y="1622">GhCOI6-D06</text><text x="3443" y="1657">GhCOI3-A05</text><text x="3443" y="1692">GhCOI3-D04</text><text x="3443" y="1727">GhCOI9A-D11</text><text x="3443" y="1762">GhCOI1-A01</text><text x="3443" y="1797">GhCOI10-A09</text><text x="3443" y="1832">GhCOI9-A08</text><text x="3443" y="1867">GhCOI9-D08</text><text x="3443" y="1902">GhCOI6-D12</text><text x="3443" y="1938">GhCOI1-A06</text><text x="3443" y="1973">GhCOI1-D06</text><text x="3443" y="2008">GhCOI8B-A08</text><text x="3443" y="2043">GhCOI8B-D08</text><text x="3443" y="2078">GhCOI10-D09</text><text x="3443" y="2113">GhCOI5-A06</text><text x="3443" y="2148">GhCOI5-D06</text><text x="3443" y="2183">GhCOI5-A05</text><text x="3443" y="2218">GhCOI10-A12</text><text x="3443" y="2253">GhCOI5-D05</text><text x="3443" y="2288">GhCOI6-A12</text><text x="3443" y="2323">GhCOI9A-A11</text><text x="3443" y="2358">GhCOI7-A11</text><text x="3443" y="2394">GhCOI7-D11</text><text x="3443" y="2429">GhCOI2-A10</text><text x="3443" y="2464">GhCOI2-D10</text><text x="3443" y="2499">GhCOI2-A02</text><text x="3443" y="2534">GhCOI6-D10</text><text x="3443" y="2569">GhCOI8A-A08</text><text x="3443" y="2604">GhCOI4-D05</text><text x="3443" y="2639">GhCOI1-D01</text><text x="3443" y="2674">GhCOI10-D12</text><text x="3443" y="2709">GhCOI4-A05</text><text x="3443" y="2744">GhCOI8A-D08</text>
</g>

<!-- Panel C column labels -->
<g class="cl">
<text transform="translate(2234 2756) rotate(-90) scale(1 1.45)">12 h-cold</text>
<text transform="translate(2377 2756) rotate(-90) scale(1 1.45)">6 h-cold</text>
<text transform="translate(2519 2756) rotate(-90) scale(1 1.45)">3 h-cold</text>
<text transform="translate(2662 2756) rotate(-90) scale(1 1.45)">1 h-cold</text>
<text transform="translate(2805 2756) rotate(-90) scale(1 1.45)">CK</text>
<text transform="translate(2948 2756) rotate(-90) scale(1 1.45)">1 h-hot</text>
<text transform="translate(3091 2756) rotate(-90) scale(1 1.45)">3 h-hot</text>
<text transform="translate(3234 2756) rotate(-90) scale(1 1.45)">6 h-hot</text>
<text transform="translate(3377 2756) rotate(-90) scale(1 1.45)">12 h-hot</text>
</g>

<!-- Panel C colorbar -->
<rect x="3725" y="1066" width="38" height="563" fill="url(#cb)"/>
<g class="tk">
<text x="3779" y="1133">2</text><text x="3779" y="1248">1</text><text x="3779" y="1363">0</text><text x="3779" y="1478">−1</text><text x="3779" y="1593">−2</text>
</g>
</svg>
</body></html>
